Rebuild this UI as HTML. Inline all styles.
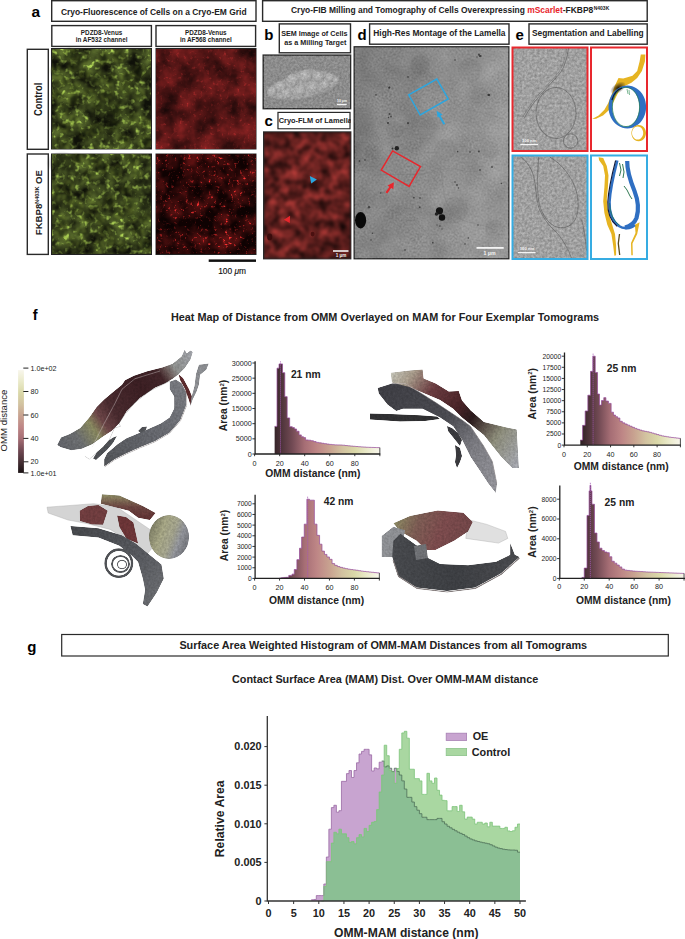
<!DOCTYPE html>
<html><head><meta charset="utf-8">
<style>
html,body{margin:0;padding:0;background:#fff;}
body{width:685px;height:939px;overflow:hidden;position:relative;font-family:"Liberation Sans",sans-serif;}
svg{position:absolute;left:0;top:0;}
text{font-family:"Liberation Sans",sans-serif;}
.b{font-weight:bold;}
</style></head><body>
<svg width="685" height="939" viewBox="0 0 685 939">
<defs>
  <filter id="fgreen" x="0" y="0" width="100%" height="100%" color-interpolation-filters="sRGB">
    <feTurbulence type="fractalNoise" baseFrequency="0.07" numOctaves="3" seed="4" result="n1"/>
    <feTurbulence type="fractalNoise" baseFrequency="0.2" numOctaves="2" seed="8" result="n2"/>
    <feColorMatrix in="n1" type="matrix" values="1.1 0 0 0 -0.2  1.1 0 0 0 -0.2  1.1 0 0 0 -0.2  0 0 0 0 1" result="a"/>
    <feColorMatrix in="n2" type="matrix" values="2.6 0 0 0 -1.4  2.6 0 0 0 -1.4  2.6 0 0 0 -1.4  0 0 0 0 1" result="bb"/>
    <feComposite in="a" in2="bb" operator="arithmetic" k1="1.3" k2="0.8" k3="0.25" k4="-0.04" result="i"/>
    <feColorMatrix in="i" type="matrix" values="0.62 0 0 0 0.06  0.76 0 0 0 0.065  0.3 0 0 0 0.035  0 0 0 0 1"/>
  </filter>
  <filter id="fred" x="0" y="0" width="100%" height="100%" color-interpolation-filters="sRGB">
    <feTurbulence type="fractalNoise" baseFrequency="0.05" numOctaves="4" seed="9" result="n1"/>
    <feTurbulence type="fractalNoise" baseFrequency="0.3" numOctaves="2" seed="3" result="n2"/>
    <feColorMatrix in="n1" type="matrix" values="0.8 0 0 0 0.02  0.8 0 0 0 0.02  0.8 0 0 0 0.02  0 0 0 0 1" result="a"/>
    <feColorMatrix in="n2" type="matrix" values="2.8 0 0 0 -1.7  2.8 0 0 0 -1.7  2.8 0 0 0 -1.7  0 0 0 0 1" result="bb"/>
    <feComposite in="a" in2="bb" operator="arithmetic" k1="0.5" k2="0.85" k3="0.08" k4="-0.06" result="i"/>
    <feColorMatrix in="i" type="matrix" values="0.9 0 0 0 0.075  0.21 0 0 0 0.025  0.21 0 0 0 0.025  0 0 0 0 1"/>
  </filter>
  <filter id="fred2" x="0" y="0" width="100%" height="100%" color-interpolation-filters="sRGB">
    <feTurbulence type="fractalNoise" baseFrequency="0.06" numOctaves="3" seed="12" result="n1"/>
    <feTurbulence type="fractalNoise" baseFrequency="0.35" numOctaves="2" seed="6" result="n2"/>
    <feColorMatrix in="n1" type="matrix" values="0.8 0 0 0 -0.24  0.8 0 0 0 -0.24  0.8 0 0 0 -0.24  0 0 0 0 1" result="a"/>
    <feColorMatrix in="n2" type="matrix" values="3.4 0 0 0 -2.08  3.4 0 0 0 -2.08  3.4 0 0 0 -2.08  0 0 0 0 1" result="bb"/>
    <feComposite in="a" in2="bb" operator="arithmetic" k1="2.0" k2="0.8" k3="0.45" k4="-0.02" result="i"/>
    <feColorMatrix in="i" type="matrix" values="1.0 0 0 0 0.06  0.2 0 0 0 0.008  0.2 0 0 0 0.008  0 0 0 0 1"/>
  </filter>
  <filter id="fc" x="0" y="0" width="100%" height="100%" color-interpolation-filters="sRGB">
    <feTurbulence type="fractalNoise" baseFrequency="0.1" numOctaves="2" seed="21" result="n"/>
    <feColorMatrix in="n" type="matrix" values="1 0 0 0 0  1 0 0 0 0  1 0 0 0 0  0 0 0 0 1" result="g"/>
    <feComposite in="SourceGraphic" in2="g" operator="arithmetic" k1="2.2" k2="-0.1" k3="0" k4="0" result="cc"/><feGaussianBlur in="cc" stdDeviation="0.8"/>
  </filter>
  <filter id="fem" x="0" y="0" width="100%" height="100%" color-interpolation-filters="sRGB">
    <feTurbulence type="fractalNoise" baseFrequency="0.4" numOctaves="2" seed="2" result="n"/>
    <feColorMatrix in="n" type="matrix" values="1 0 0 0 0  1 0 0 0 0  1 0 0 0 0  0 0 0 0 1" result="g"/>
    <feComposite in="SourceGraphic" in2="g" operator="arithmetic" k1="0" k2="1" k3="0.3" k4="-0.15"/>
  </filter>
  <filter id="fd" x="0" y="0" width="100%" height="100%" color-interpolation-filters="sRGB">
    <feTurbulence type="fractalNoise" baseFrequency="0.5" numOctaves="2" seed="7" result="n"/>
    <feTurbulence type="fractalNoise" baseFrequency="0.035" numOctaves="2" seed="17" result="n2"/>
    <feComposite in="n" in2="n2" operator="arithmetic" k1="0" k2="0.5" k3="0.5" k4="0" result="nn"/>
    <feColorMatrix in="nn" type="matrix" values="1 0 0 0 0  1 0 0 0 0  1 0 0 0 0  0 0 0 0 1" result="g"/>
    <feComposite in="SourceGraphic" in2="g" operator="arithmetic" k1="0" k2="1" k3="0.3" k4="-0.15"/>
  </filter>
  <filter id="fsem" x="0" y="0" width="100%" height="100%" color-interpolation-filters="sRGB">
    <feTurbulence type="fractalNoise" baseFrequency="0.45" numOctaves="2" seed="5" result="n"/>
    <feColorMatrix in="n" type="matrix" values="1 0 0 0 0  1 0 0 0 0  1 0 0 0 0  0 0 0 0 1" result="g"/>
    <feComposite in="SourceGraphic" in2="g" operator="arithmetic" k1="0" k2="1" k3="0.22" k4="-0.11"/>
  </filter>
  <filter id="blur1"><feGaussianBlur stdDeviation="1.2"/></filter>
  <filter id="blur2"><feGaussianBlur stdDeviation="2.5"/></filter>
  <linearGradient id="dgrad" x1="0" y1="0" x2="1" y2="0.3"><stop offset="0" stop-color="#7c7c7c"/><stop offset="0.3" stop-color="#848484"/><stop offset="0.6" stop-color="#8c8c8c"/><stop offset="1" stop-color="#959595"/></linearGradient>
  <radialGradient id="semblob" cx="0.5" cy="0.5" r="0.5"><stop offset="0" stop-color="#b4b4b4"/><stop offset="0.75" stop-color="#aaaaaa"/><stop offset="1" stop-color="#8e8e8e" stop-opacity="0"/></radialGradient>
<linearGradient id="cdark" x1="0" y1="0" x2="1" y2="1"><stop offset="0" stop-color="#000" stop-opacity="0.15"/><stop offset="0.45" stop-color="#000" stop-opacity="0"/><stop offset="0.75" stop-color="#000" stop-opacity="0.1"/><stop offset="1" stop-color="#000" stop-opacity="0.3"/></linearGradient>
<radialGradient id="darkspot" cx="0.5" cy="0.5" r="0.5"><stop offset="0" stop-color="#000" stop-opacity="0.45"/><stop offset="1" stop-color="#000" stop-opacity="0"/></radialGradient>
<radialGradient id="brightspot" cx="0.5" cy="0.5" r="0.5"><stop offset="0" stop-color="#fff" stop-opacity="0.12"/><stop offset="1" stop-color="#fff" stop-opacity="0"/></radialGradient>
<filter id="tex3d" x="0" y="0" width="100%" height="100%" color-interpolation-filters="sRGB">
<feTurbulence type="fractalNoise" baseFrequency="0.45" numOctaves="2" seed="3" result="n"/>
<feColorMatrix in="n" type="matrix" values="1 0 0 0 0  1 0 0 0 0  1 0 0 0 0  0 0 0 0 1" result="g"/>
<feComposite in="SourceGraphic" in2="g" operator="arithmetic" k1="0.3" k2="0.85" k3="0" k4="0" result="m"/>
<feComposite in="m" in2="SourceGraphic" operator="in"/>
</filter>
<filter id="blur05"><feGaussianBlur stdDeviation="0.9"/></filter>
</defs>

<!-- ===== Panel a ===== -->
<text x="31.6" y="16.9" class="b" font-size="15.5">a</text>
<rect x="51.7" y="0.7" width="204.3" height="20.6" fill="#fff" stroke="#2a2a2a" stroke-width="1.4"/>
<text x="60.9" y="15.2" class="b" font-size="8.45" fill="#222">Cryo-Fluorescence of Cells on a Cryo-EM Grid</text>
<rect x="51.8" y="25.6" width="99.6" height="20.8" fill="#fff" stroke="#2a2a2a" stroke-width="1.4"/>
<text x="101.6" y="34.8" class="b" font-size="6.33" fill="#222" text-anchor="middle">PDZD8-Venus</text>
<text x="101.6" y="42.1" class="b" font-size="6.33" fill="#222" text-anchor="middle">in AF532 channel</text>
<rect x="156" y="25.6" width="99.6" height="20.8" fill="#fff" stroke="#2a2a2a" stroke-width="1.4"/>
<text x="205.8" y="34.8" class="b" font-size="6.33" fill="#222" text-anchor="middle">PDZD8-Venus</text>
<text x="205.8" y="42.1" class="b" font-size="6.33" fill="#222" text-anchor="middle">in AF568 channel</text>

<rect x="27.3" y="49.3" width="21" height="100" fill="#fff" stroke="#2a2a2a" stroke-width="1.4"/>
<text transform="translate(41.9,99.4) rotate(-90) scale(0.885,1)" class="b" font-size="10.6" fill="#222" text-anchor="middle">Control</text>
<rect x="27.3" y="154" width="21" height="100.4" fill="#fff" stroke="#2a2a2a" stroke-width="1.4"/>
<text transform="translate(41.9,235.2) rotate(-90)" class="b" font-size="9.6" fill="#222">FKBP8<tspan font-size="5.5" dy="-2.6">N403K</tspan><tspan dy="2.6"> OE</tspan></text>

<!-- images -->
<rect x="51" y="48" width="101" height="101.5" fill="#222"/>
<rect x="52" y="49" width="99" height="99.5" filter="url(#fgreen)"/>
<g opacity="0.3" filter="url(#blur05)"><ellipse cx="97.2" cy="104.2" rx="4.0" ry="4.0" transform="rotate(80 97.2 104.2)" fill="#1e280c" stroke="#8aa436" stroke-width="1.3" stroke-dasharray="6.7,5.0"/><ellipse cx="140.1" cy="95.6" rx="4.4" ry="4.2" transform="rotate(103 140.1 95.6)" fill="#1e280c" stroke="#8aa436" stroke-width="1.3" stroke-dasharray="7.8,5.8"/><ellipse cx="72.8" cy="99.8" rx="4.9" ry="5.3" transform="rotate(176 72.8 99.8)" fill="#1e280c" stroke="#8aa436" stroke-width="1.9" stroke-dasharray="7.4,5.7"/><ellipse cx="113.3" cy="125.6" rx="5.7" ry="4.7" transform="rotate(25 113.3 125.6)" fill="#1e280c" stroke="#8aa436" stroke-width="1.2" stroke-dasharray="3.2,3.9"/><ellipse cx="64.6" cy="80.8" rx="4.0" ry="5.3" transform="rotate(126 64.6 80.8)" fill="#1e280c" stroke="#8aa436" stroke-width="2.2" stroke-dasharray="8.7,4.6"/><ellipse cx="64.3" cy="127.1" rx="4.1" ry="4.8" transform="rotate(87 64.3 127.1)" fill="#1e280c" stroke="#8aa436" stroke-width="1.9" stroke-dasharray="8.4,2.5"/><ellipse cx="119.1" cy="56.8" rx="4.8" ry="5.5" transform="rotate(14 119.1 56.8)" fill="#1e280c" stroke="#8aa436" stroke-width="1.7" stroke-dasharray="5.8,3.0"/><ellipse cx="145.4" cy="141.3" rx="5.8" ry="5.3" transform="rotate(133 145.4 141.3)" fill="#1e280c" stroke="#8aa436" stroke-width="1.9" stroke-dasharray="6.3,4.3"/><ellipse cx="115.5" cy="109.3" rx="6.0" ry="5.3" transform="rotate(63 115.5 109.3)" fill="#1e280c" stroke="#8aa436" stroke-width="1.9" stroke-dasharray="3.1,2.9"/><ellipse cx="70.3" cy="54.4" rx="6.3" ry="5.2" transform="rotate(75 70.3 54.4)" fill="#1e280c" stroke="#8aa436" stroke-width="2.0" stroke-dasharray="4.7,5.7"/><ellipse cx="104.1" cy="58.4" rx="6.2" ry="4.6" transform="rotate(112 104.1 58.4)" fill="#1e280c" stroke="#8aa436" stroke-width="1.6" stroke-dasharray="7.6,2.6"/><ellipse cx="58.7" cy="95.5" rx="5.5" ry="4.7" transform="rotate(14 58.7 95.5)" fill="#1e280c" stroke="#8aa436" stroke-width="1.8" stroke-dasharray="7.8,2.6"/><ellipse cx="96.1" cy="130.1" rx="6.5" ry="5.3" transform="rotate(131 96.1 130.1)" fill="#1e280c" stroke="#8aa436" stroke-width="1.6" stroke-dasharray="6.7,2.5"/><ellipse cx="97.6" cy="78.5" rx="5.8" ry="4.7" transform="rotate(79 97.6 78.5)" fill="#1e280c" stroke="#8aa436" stroke-width="2.0" stroke-dasharray="3.0,5.5"/><ellipse cx="132.5" cy="117.8" rx="4.2" ry="5.0" transform="rotate(5 132.5 117.8)" fill="#1e280c" stroke="#8aa436" stroke-width="1.8" stroke-dasharray="4.3,2.9"/><ellipse cx="84.7" cy="74.0" rx="5.2" ry="4.0" transform="rotate(126 84.7 74.0)" fill="#1e280c" stroke="#8aa436" stroke-width="1.7" stroke-dasharray="8.9,5.5"/><ellipse cx="82.3" cy="59.4" rx="5.5" ry="5.3" transform="rotate(46 82.3 59.4)" fill="#1e280c" stroke="#8aa436" stroke-width="1.2" stroke-dasharray="4.7,5.8"/><ellipse cx="125.7" cy="89.6" rx="4.8" ry="4.9" transform="rotate(36 125.7 89.6)" fill="#1e280c" stroke="#8aa436" stroke-width="1.4" stroke-dasharray="6.2,4.7"/><ellipse cx="56.0" cy="72.2" rx="6.3" ry="4.8" transform="rotate(80 56.0 72.2)" fill="#1e280c" stroke="#8aa436" stroke-width="2.1" stroke-dasharray="4.2,5.8"/><ellipse cx="62.6" cy="110.6" rx="4.8" ry="4.8" transform="rotate(36 62.6 110.6)" fill="#1e280c" stroke="#8aa436" stroke-width="1.6" stroke-dasharray="7.1,5.9"/><ellipse cx="126.8" cy="77.7" rx="6.0" ry="5.3" transform="rotate(158 126.8 77.7)" fill="#1e280c" stroke="#8aa436" stroke-width="1.6" stroke-dasharray="8.4,3.2"/><ellipse cx="143.7" cy="122.4" rx="5.5" ry="4.1" transform="rotate(25 143.7 122.4)" fill="#1e280c" stroke="#8aa436" stroke-width="1.7" stroke-dasharray="5.2,2.7"/><ellipse cx="106.9" cy="93.9" rx="6.1" ry="5.2" transform="rotate(128 106.9 93.9)" fill="#1e280c" stroke="#8aa436" stroke-width="2.2" stroke-dasharray="3.9,2.3"/><ellipse cx="73.4" cy="120.0" rx="4.7" ry="3.8" transform="rotate(81 73.4 120.0)" fill="#1e280c" stroke="#8aa436" stroke-width="1.5" stroke-dasharray="4.8,4.4"/><ellipse cx="83.7" cy="134.0" rx="4.5" ry="4.3" transform="rotate(113 83.7 134.0)" fill="#1e280c" stroke="#8aa436" stroke-width="1.7" stroke-dasharray="3.0,4.7"/><ellipse cx="75.2" cy="89.1" rx="4.8" ry="5.2" transform="rotate(177 75.2 89.1)" fill="#1e280c" stroke="#8aa436" stroke-width="1.7" stroke-dasharray="5.0,3.2"/><ellipse cx="65.1" cy="143.5" rx="4.2" ry="3.6" transform="rotate(157 65.1 143.5)" fill="#1e280c" stroke="#8aa436" stroke-width="1.2" stroke-dasharray="7.9,3.9"/><ellipse cx="89.8" cy="94.5" rx="5.8" ry="4.6" transform="rotate(56 89.8 94.5)" fill="#1e280c" stroke="#8aa436" stroke-width="2.0" stroke-dasharray="4.9,3.9"/><ellipse cx="72.6" cy="67.1" rx="4.0" ry="3.8" transform="rotate(82 72.6 67.1)" fill="#1e280c" stroke="#8aa436" stroke-width="1.2" stroke-dasharray="7.2,2.2"/><ellipse cx="123.3" cy="139.0" rx="6.1" ry="4.0" transform="rotate(25 123.3 139.0)" fill="#1e280c" stroke="#8aa436" stroke-width="1.2" stroke-dasharray="8.9,2.1"/><ellipse cx="110.3" cy="79.8" rx="5.6" ry="4.4" transform="rotate(113 110.3 79.8)" fill="#1e280c" stroke="#8aa436" stroke-width="1.9" stroke-dasharray="7.5,5.4"/><ellipse cx="139.5" cy="71.7" rx="6.0" ry="5.4" transform="rotate(123 139.5 71.7)" fill="#1e280c" stroke="#8aa436" stroke-width="1.4" stroke-dasharray="3.1,5.2"/></g>
<ellipse cx="110" cy="112" rx="28" ry="24" fill="url(#darkspot)"/>
<rect x="155.5" y="48" width="101" height="101.5" fill="#222"/>
<rect x="156.5" y="49" width="99" height="99.5" filter="url(#fred)"/>
<ellipse cx="205" cy="112" rx="25" ry="22" fill="url(#darkspot)" opacity="0.7"/><ellipse cx="168" cy="100" rx="12" ry="40" fill="url(#darkspot)" opacity="0.5"/>
<rect x="51" y="153.5" width="101" height="101.5" fill="#222"/>
<rect x="52" y="154.5" width="99" height="99.5" filter="url(#fgreen)"/>
<g opacity="0.3" filter="url(#blur05)"><ellipse cx="99.2" cy="218.7" rx="4.9" ry="3.7" transform="rotate(64 99.2 218.7)" fill="#1c260a" stroke="#94ae3a" stroke-width="1.5" stroke-dasharray="5.2,4.3"/><ellipse cx="116.6" cy="171.5" rx="6.3" ry="4.9" transform="rotate(97 116.6 171.5)" fill="#1c260a" stroke="#94ae3a" stroke-width="1.8" stroke-dasharray="3.1,2.2"/><ellipse cx="57.0" cy="192.8" rx="4.3" ry="4.6" transform="rotate(126 57.0 192.8)" fill="#1c260a" stroke="#94ae3a" stroke-width="1.6" stroke-dasharray="4.1,5.8"/><ellipse cx="80.9" cy="232.6" rx="4.6" ry="4.3" transform="rotate(58 80.9 232.6)" fill="#1c260a" stroke="#94ae3a" stroke-width="1.9" stroke-dasharray="4.2,5.0"/><ellipse cx="118.8" cy="213.5" rx="4.4" ry="3.7" transform="rotate(56 118.8 213.5)" fill="#1c260a" stroke="#94ae3a" stroke-width="1.9" stroke-dasharray="8.6,5.8"/><ellipse cx="69.2" cy="198.8" rx="5.9" ry="4.8" transform="rotate(168 69.2 198.8)" fill="#1c260a" stroke="#94ae3a" stroke-width="1.6" stroke-dasharray="5.1,3.4"/><ellipse cx="70.8" cy="241.4" rx="4.1" ry="4.5" transform="rotate(80 70.8 241.4)" fill="#1c260a" stroke="#94ae3a" stroke-width="1.4" stroke-dasharray="6.1,5.1"/><ellipse cx="61.4" cy="233.4" rx="5.7" ry="4.2" transform="rotate(43 61.4 233.4)" fill="#1c260a" stroke="#94ae3a" stroke-width="1.5" stroke-dasharray="3.6,5.0"/><ellipse cx="62.8" cy="221.4" rx="6.4" ry="3.5" transform="rotate(65 62.8 221.4)" fill="#1c260a" stroke="#94ae3a" stroke-width="1.5" stroke-dasharray="7.8,5.4"/><ellipse cx="86.7" cy="195.5" rx="4.5" ry="4.4" transform="rotate(40 86.7 195.5)" fill="#1c260a" stroke="#94ae3a" stroke-width="2.1" stroke-dasharray="3.2,5.8"/><ellipse cx="132.7" cy="160.2" rx="5.3" ry="4.9" transform="rotate(29 132.7 160.2)" fill="#1c260a" stroke="#94ae3a" stroke-width="1.7" stroke-dasharray="3.5,3.4"/><ellipse cx="102.3" cy="166.8" rx="5.5" ry="5.2" transform="rotate(45 102.3 166.8)" fill="#1c260a" stroke="#94ae3a" stroke-width="1.7" stroke-dasharray="6.7,5.7"/><ellipse cx="145.8" cy="245.1" rx="6.1" ry="5.2" transform="rotate(41 145.8 245.1)" fill="#1c260a" stroke="#94ae3a" stroke-width="1.7" stroke-dasharray="5.0,5.7"/><ellipse cx="68.3" cy="187.1" rx="5.9" ry="4.3" transform="rotate(121 68.3 187.1)" fill="#1c260a" stroke="#94ae3a" stroke-width="1.9" stroke-dasharray="6.3,3.2"/><ellipse cx="110.2" cy="202.1" rx="6.4" ry="4.6" transform="rotate(123 110.2 202.1)" fill="#1c260a" stroke="#94ae3a" stroke-width="1.6" stroke-dasharray="4.9,2.7"/><ellipse cx="91.0" cy="161.3" rx="5.8" ry="4.1" transform="rotate(90 91.0 161.3)" fill="#1c260a" stroke="#94ae3a" stroke-width="1.6" stroke-dasharray="3.5,2.6"/><ellipse cx="122.1" cy="247.0" rx="4.8" ry="3.8" transform="rotate(41 122.1 247.0)" fill="#1c260a" stroke="#94ae3a" stroke-width="1.7" stroke-dasharray="7.1,6.0"/><ellipse cx="144.8" cy="219.2" rx="4.6" ry="3.6" transform="rotate(145 144.8 219.2)" fill="#1c260a" stroke="#94ae3a" stroke-width="1.5" stroke-dasharray="4.0,2.2"/><ellipse cx="129.7" cy="204.3" rx="6.3" ry="4.7" transform="rotate(70 129.7 204.3)" fill="#1c260a" stroke="#94ae3a" stroke-width="2.1" stroke-dasharray="8.9,4.1"/><ellipse cx="95.1" cy="206.0" rx="6.2" ry="4.1" transform="rotate(23 95.1 206.0)" fill="#1c260a" stroke="#94ae3a" stroke-width="1.8" stroke-dasharray="5.4,2.9"/><ellipse cx="87.3" cy="216.8" rx="6.1" ry="4.7" transform="rotate(141 87.3 216.8)" fill="#1c260a" stroke="#94ae3a" stroke-width="1.6" stroke-dasharray="6.6,5.3"/><ellipse cx="99.3" cy="246.2" rx="5.5" ry="4.0" transform="rotate(73 99.3 246.2)" fill="#1c260a" stroke="#94ae3a" stroke-width="1.6" stroke-dasharray="5.7,3.7"/><ellipse cx="89.1" cy="175.8" rx="5.0" ry="4.3" transform="rotate(145 89.1 175.8)" fill="#1c260a" stroke="#94ae3a" stroke-width="1.4" stroke-dasharray="3.3,5.7"/><ellipse cx="126.1" cy="189.8" rx="4.5" ry="4.0" transform="rotate(175 126.1 189.8)" fill="#1c260a" stroke="#94ae3a" stroke-width="1.7" stroke-dasharray="3.2,4.0"/><ellipse cx="78.0" cy="159.3" rx="4.1" ry="5.2" transform="rotate(157 78.0 159.3)" fill="#1c260a" stroke="#94ae3a" stroke-width="2.0" stroke-dasharray="8.0,2.5"/><ellipse cx="131.7" cy="217.0" rx="4.9" ry="5.0" transform="rotate(55 131.7 217.0)" fill="#1c260a" stroke="#94ae3a" stroke-width="1.3" stroke-dasharray="7.4,5.8"/><ellipse cx="76.9" cy="206.7" rx="6.2" ry="5.2" transform="rotate(38 76.9 206.7)" fill="#1c260a" stroke="#94ae3a" stroke-width="2.1" stroke-dasharray="6.8,5.2"/><ellipse cx="137.4" cy="173.3" rx="4.1" ry="4.1" transform="rotate(2 137.4 173.3)" fill="#1c260a" stroke="#94ae3a" stroke-width="1.4" stroke-dasharray="3.6,3.7"/><ellipse cx="81.3" cy="244.9" rx="4.4" ry="4.9" transform="rotate(53 81.3 244.9)" fill="#1c260a" stroke="#94ae3a" stroke-width="1.4" stroke-dasharray="3.9,5.4"/><ellipse cx="109.5" cy="240.9" rx="4.5" ry="4.1" transform="rotate(155 109.5 240.9)" fill="#1c260a" stroke="#94ae3a" stroke-width="1.8" stroke-dasharray="4.8,3.8"/><ellipse cx="138.2" cy="231.5" rx="4.3" ry="4.9" transform="rotate(97 138.2 231.5)" fill="#1c260a" stroke="#94ae3a" stroke-width="1.6" stroke-dasharray="9.0,5.4"/><ellipse cx="104.7" cy="230.7" rx="5.3" ry="4.8" transform="rotate(144 104.7 230.7)" fill="#1c260a" stroke="#94ae3a" stroke-width="1.7" stroke-dasharray="8.9,3.8"/></g>
<ellipse cx="62" cy="163" rx="16" ry="12" fill="url(#darkspot)"/><ellipse cx="140" cy="205" rx="12" ry="30" fill="url(#darkspot)" opacity="0.6"/>
<rect x="155.5" y="153.5" width="101" height="101.5" fill="#222"/>
<rect x="156.5" y="154.5" width="99" height="99.5" filter="url(#fred2)"/>
<ellipse cx="168" cy="215" rx="14" ry="45" fill="url(#darkspot)" opacity="0.7"/><ellipse cx="245" cy="215" rx="12" ry="40" fill="url(#darkspot)" opacity="0.5"/>

<rect x="208.7" y="259.4" width="47.3" height="2.5" fill="#111"/>
<text x="218.2" y="274.3" font-size="8.4" fill="#111" stroke="#111" stroke-width="0.15">100 <tspan font-style="italic">μ</tspan>m</text>

<!-- ===== Panel b-e ===== -->
<rect x="262.6" y="0.7" width="384.6" height="20.6" fill="#fff" stroke="#2a2a2a" stroke-width="1.4"/>
<text x="291" y="13.3" class="b" font-size="8.45" fill="#222">Cryo-FIB Milling and Tomography of Cells Overexpressing <tspan fill="#e8232a">mScarlet</tspan>-FKBP8<tspan font-size="5" dx="0.4" dy="-3.1">N403K</tspan></text>

<text x="264.2" y="39.8" class="b" font-size="15">b</text>
<rect x="279.3" y="23.9" width="71.2" height="28.9" fill="#fff" stroke="#2a2a2a" stroke-width="1.4"/>
<text x="314.3" y="36.1" class="b" font-size="7.2" fill="#222" text-anchor="middle">SEM Image of Cells</text>
<text x="315.3" y="44.6" class="b" font-size="7.2" fill="#222" text-anchor="middle">as a Milling Target</text>
<rect x="262.5" y="54.4" width="88.8" height="55" fill="#2a2a2a"/>
<defs><radialGradient id="bump" cx="0.4" cy="0.38" r="0.62"><stop offset="0" stop-color="#bababa"/><stop offset="0.6" stop-color="#a8a8a8"/><stop offset="0.9" stop-color="#989898"/><stop offset="1" stop-color="#929292"/></radialGradient></defs>
<g filter="url(#fsem)"><rect x="263.8" y="55.7" width="86.2" height="52.4" fill="#8c8c8c"/>
<path d="M266,94 C268,86 276,81 285,78 C292,72 302,68 312,69 C322,70 330,72 337,75 C341,78 340,84 335,87 C326,92 316,96 304,99 C292,101 278,100 270,98 Z" fill="#a4a4a4" stroke="#7a7a7a" stroke-width="1.2" filter="url(#blur1)"/>
<g fill="url(#bump)"><circle cx="272" cy="92" r="5"/><circle cx="281" cy="87" r="6"/><circle cx="293" cy="80" r="6.5"/><circle cx="306" cy="76" r="6.5"/><circle cx="319" cy="77" r="5.5"/><circle cx="330" cy="78" r="4.5"/><circle cx="287" cy="94" r="5.5"/><circle cx="300" cy="91" r="6"/><circle cx="313" cy="88" r="5.5"/><circle cx="325" cy="85" r="4.5"/><circle cx="336" cy="80" r="3"/></g>
</g>
<rect x="337" y="103.8" width="9.7" height="1.4" fill="#f4f4f4"/><text x="342" y="101.8" font-size="3.4" class="b" fill="#f4f4f4" text-anchor="middle">10 μm</text>

<text x="264.6" y="125.9" class="b" font-size="15">c</text>
<svg x="277.2" y="111.6" width="73.6" height="18" overflow="hidden">
<rect x="0.7" y="0.7" width="72.2" height="16.6" fill="#fff" stroke="#2a2a2a" stroke-width="1.4"/>
<text x="1.5" y="11.9" class="b" font-size="7.4" fill="#222">Cryo-FLM of Lamella</text>
</svg>
<rect x="263" y="131.3" width="88.4" height="128.1" fill="#2a2a2a"/>
<rect x="264.2" y="132.5" width="86" height="125.7" fill="#682220" filter="url(#fc)"/>
<rect x="264.2" y="132.5" width="86" height="125.7" fill="url(#cdark)"/>
<ellipse cx="269.7" cy="236.9" rx="2.6" ry="3.4" fill="#3a0c0c"/><ellipse cx="312.6" cy="234.1" rx="2" ry="2.4" fill="#4a1010"/>
<path d="M309.8,176.1 L316.9,179.5 L311.2,183.4 Z" fill="#29a6e0"/>
<path d="M290.1,215.8 L283.8,219.7 L289.8,223.1 Z" fill="#e8262c"/>
<rect x="333" y="250.2" width="15.5" height="1.6" fill="#f0f0f0"/><text x="341" y="256.6" font-size="4.6" class="b" fill="#f0f0f0" text-anchor="middle">1 μm</text>

<text x="357.4" y="39.5" class="b" font-size="15">d</text>
<rect x="369.6" y="23.9" width="139.4" height="20.3" fill="#fff" stroke="#2a2a2a" stroke-width="1.4"/>
<text x="373.3" y="36" class="b" font-size="8.4" fill="#222">High-Res Montage of the Lamella</text>
<rect x="353.5" y="46.1" width="156" height="213.3" fill="#2a2a2a"/>
<g filter="url(#fd)"><rect x="354.7" y="47.3" width="153.6" height="210.9" fill="url(#dgrad)"/>
<g fill="#000" opacity="0.035"><circle cx="420" cy="65" r="10"/><circle cx="470" cy="70" r="12"/><circle cx="395" cy="130" r="9"/><circle cx="372" cy="152" r="8"/><circle cx="445" cy="150" r="11"/><circle cx="490" cy="150" r="9"/><circle cx="455" cy="210" r="13"/><circle cx="495" cy="230" r="10"/><circle cx="410" cy="230" r="14"/><circle cx="380" cy="200" r="9"/></g>
</g>
<ellipse cx="360.6" cy="220.2" rx="5.6" ry="8.2" fill="#080808"/>
<circle cx="439.5" cy="210.8" r="3.6" fill="#141414"/><circle cx="442" cy="217.5" r="3.2" fill="#101010"/><circle cx="436.5" cy="214" r="1.8" fill="#222"/>
<circle cx="396.8" cy="148.2" r="2.2" fill="#222"/><circle cx="392.5" cy="148.5" r="1" fill="#333"/>
<g fill="#3a3a3a" opacity="0.85"><circle cx="478.9" cy="54.6" r="1.1"/><circle cx="481" cy="56" r="0.8"/><circle cx="477" cy="57" r="0.7"/><circle cx="389" cy="87.8" r="0.9"/><circle cx="376" cy="94.9" r="0.8"/><circle cx="389.5" cy="114" r="1"/><circle cx="391" cy="116.5" r="0.9"/><circle cx="388.5" cy="117.5" r="0.7"/><circle cx="408" cy="123.2" r="1.1"/><circle cx="488.4" cy="94.9" r="1.1"/><circle cx="359.5" cy="161" r="0.9"/><circle cx="457.6" cy="151.6" r="0.8"/><circle cx="478.9" cy="151.6" r="1"/><circle cx="492" cy="167" r="0.9"/><circle cx="413.9" cy="197.7" r="0.9"/><circle cx="455" cy="182" r="0.8"/><circle cx="457" cy="185" r="0.9"/><circle cx="458.5" cy="188" r="0.7"/><circle cx="419.8" cy="207.2" r="0.9"/><circle cx="439.9" cy="226.1" r="0.8"/><circle cx="380.7" cy="193" r="0.8"/><circle cx="369" cy="207.2" r="1.2"/><circle cx="372.5" cy="233.2" r="0.8"/><circle cx="432.8" cy="242.7" r="0.9"/><circle cx="468.3" cy="238" r="0.8"/><circle cx="501.4" cy="183.5" r="0.8"/><circle cx="437" cy="225" r="0.7"/><circle cx="442" cy="229" r="0.7"/></g>
<g fill="none" stroke="#6e6e6e" stroke-width="0.5" opacity="0.45"><path d="M372,176 C390,172 420,178 440,170 C455,165 470,176 480,170"/><path d="M440,170 C445,185 440,200 455,215 C465,225 480,222 495,230"/><path d="M395,205 C405,215 420,222 432,240 C436,248 446,252 460,256"/><path d="M410,60 C430,70 440,90 450,100 C460,112 480,110 500,118"/><path d="M358,120 C370,125 380,135 383,150"/></g>
<g fill="#333"><circle cx="389.5" cy="87.5" r="0.9"/><circle cx="408" cy="77" r="0.8"/><circle cx="388" cy="123" r="0.9"/><circle cx="489" cy="95" r="1.1"/><circle cx="470" cy="152" r="0.8"/><circle cx="480" cy="170" r="0.8"/><circle cx="365" cy="160" r="0.8"/><circle cx="420" cy="198" r="0.8"/><circle cx="371" cy="240" r="0.7"/><circle cx="478" cy="225" r="0.7"/><circle cx="405" cy="250" r="0.8"/><circle cx="465" cy="244" r="0.7"/><circle cx="480" cy="56" r="1"/><circle cx="455" cy="60" r="0.7"/></g>
<path d="M408.7,94.9 L436.8,79 L448.2,98.9 L420.2,115 Z" fill="none" stroke="#2ba6e0" stroke-width="1.5"/>
<path d="M444.3,124.3 L439.2,115.4" stroke="#2ba6e0" stroke-width="2"/><path d="M436.6,110.8 L442.5,114.6 L437.6,117.5 Z" fill="#2ba6e0"/>
<path d="M381.2,170.1 L392.6,150.9 L420.5,166.5 L409.1,186.4 Z" fill="none" stroke="#e8262c" stroke-width="1.5"/>
<path d="M386.4,192.8 L390.8,186.6" stroke="#e8262c" stroke-width="2.2"/><path d="M393.9,182.2 L393.3,189.3 L387.5,185.4 Z" fill="#e8262c"/>
<rect x="476.5" y="247" width="27.2" height="1.8" fill="#f4f4f4"/><text x="489.6" y="255.3" font-size="5.2" class="b" fill="#f4f4f4" text-anchor="middle">1 μm</text>

<text x="515.4" y="39.6" class="b" font-size="15">e</text>
<rect x="529" y="23.9" width="118.2" height="20.3" fill="#fff" stroke="#2a2a2a" stroke-width="1.4"/>
<text x="532" y="36" class="b" font-size="8.4" fill="#222">Segmentation and Labelling</text>

<rect x="512.5" y="47.5" width="75" height="103.5" fill="#a0a0a0" filter="url(#fem)"/>
<g fill="none" stroke="#555" stroke-width="0.7" opacity="0.8">
<path d="M524,118.8 C528,111 533,103 539.9,95.5 C546,88.5 556,78 560.8,72.2 C565,66 567,57 568.7,47.7"/>
<path d="M522.5,117.5 C527,110 532,102 538.5,94.5 C545,87.5 555,77 559.5,71.2 C563.5,65 565.5,56 567.2,47.7" opacity="0.6"/>
<ellipse cx="556" cy="113" rx="20" ry="25.5"/>
<circle cx="570.6" cy="141" r="7.2"/>
</g>
<rect x="520.3" y="144" width="17.7" height="1.2" fill="#f4f4f4"/><text x="529.2" y="141.6" font-size="4.2" class="b" fill="#f4f4f4" text-anchor="middle">100 nm</text>
<rect x="512.5" y="47.5" width="75" height="103.5" fill="none" stroke="#e8282e" stroke-width="2"/>
<rect x="591" y="47.5" width="56" height="103.5" fill="#fff" stroke="#e8282e" stroke-width="2"/>
<defs><linearGradient id="ygr" x1="0" y1="0" x2="1" y2="0"><stop offset="0" stop-color="#e9b824"/><stop offset="0.6" stop-color="#d9a41c"/><stop offset="1" stop-color="#f0c030"/></linearGradient>
<radialGradient id="shad1" cx="0.5" cy="0.5" r="0.5"><stop offset="0" stop-color="#1a1208" stop-opacity="0.95"/><stop offset="1" stop-color="#1a1208" stop-opacity="0"/></radialGradient></defs>
<path d="M592.1,119 L598.6,115.5 L604.4,109.7 L608,103.5 L611.5,95 L614.5,86.5 L618.5,78 L623.2,78.6 L626.7,77.4 L632.5,75.7 L637.2,71 L639.6,61.6 L640.8,54.6 L645.4,54.6 L644.9,61.6 L641.9,71 L637.2,78 L631.4,82.7 L624.3,86.2 L619,91 L616,97 L612.5,104 L608.5,110.5 L603,115.5 L596,118.8 Z" fill="#e6b422"/>
<ellipse cx="618" cy="88" rx="9" ry="5" fill="url(#shad1)" transform="rotate(-35 618 88)"/>
<path fill-rule="evenodd" d="M627.3,85.6 A18.8,21.4 0 1 1 627.29,85.6 Z M625.8,87.4 A13.6,19.6 0 1 0 625.81,87.4 Z" fill="#2f6fc2"/>
<ellipse cx="626" cy="107" rx="13.6" ry="19.6" fill="none" stroke="#1e7a4a" stroke-width="0.7"/>
<path d="M612,100 A13.6,19.6 0 0 1 622,88" fill="none" stroke="#101828" stroke-width="1.2"/>
<path d="M627,89 L628,94 M629,90 L629.5,95" stroke="#2a8a50" stroke-width="0.6"/>
<path fill-rule="evenodd" d="M638.7,124.9 A7.3,8.2 0 1 1 638.69,124.9 Z M637.6,126.4 A5.6,6.6 0 1 0 637.61,126.4 Z" fill="#e6b422"/>
<rect x="512.5" y="155.5" width="75" height="103.5" fill="#a0a0a0" filter="url(#fem)"/>
<g fill="none" stroke="#555" stroke-width="0.7" opacity="0.8">
<path d="M520.3,156.9 C525,159 531,167 533.8,176.5 C536,186 536,198 538.7,207.2 C541,214 547,224 554.6,230.5 C559,235 564,241 569.3,252.6 L571.8,259"/>
<path d="M538.7,156.9 C537.5,170 537,190 538.7,201.1 C540,210 546,222 555,226.5 C562,229.5 571,227 575,220 C579,212 579,200 576,190 C572,178 565,169 557,162 L549.7,156.9"/>
<path d="M581.6,219.5 C584,228 585.3,237.9 586.5,250.2"/>
</g>
<rect x="517.8" y="252" width="17.8" height="1.2" fill="#f4f4f4"/><text x="527" y="249.6" font-size="4.2" class="b" fill="#f4f4f4" text-anchor="middle">100 nm</text>
<rect x="512.5" y="155.5" width="75" height="103.5" fill="none" stroke="#36ace2" stroke-width="2"/>
<rect x="591" y="155.5" width="56" height="103.5" fill="#fff" stroke="#36ace2" stroke-width="2"/>
<path d="M598.6,157.3 L603.2,157.9 L606.8,166.1 L608.5,175.4 L607.9,187.2 L606.8,198.9 L607.9,210.6 L611.4,222.3 L615,234.1 L616.1,245.8 L616.1,255.2 L614.4,255.8 L613.2,245.8 L611.4,234.1 L607.3,224.7 L604.4,213 L603.2,201.2 L604.4,187.2 L605,175.4 L603.2,166.1 L599.1,160.2 Z" fill="#e6b422"/>
<path d="M619.5,234 L618.3,243.4 L619.7,255" fill="none" stroke="#5a4a1a" stroke-width="1.3"/>
<path d="M634.9,224.7 L639.6,222.3 L637.2,234.1 L632.5,243.4 L632.8,255.2 L631.3,255.2 L631,243 L635.5,233 Z" fill="#e6b422"/>
<path d="M617.3,160.5 C614.3,172 610.3,188 609.5,202 C609.1,212 612.3,221 618.8,226 C623.3,229 630.3,229 634.8,225" fill="none" stroke="#2f6fc2" stroke-width="2.6"/>
<path d="M615.6,160.5 C612.6,172 608.6,188 607.8,202 C607.4,212 610.6,221 617.1,226.2" fill="none" stroke="#101a3a" stroke-width="1.1"/>
<path d="M627.2,161 C627,170 630,180 634.5,191 C638,200 639,210 636.5,218 C634.5,223 631,226 625,227.5" fill="none" stroke="#2f6fc2" stroke-width="4.2"/>
<path d="M609.5,203 C610,214 614,222 620,225.5" fill="none" stroke="#1e7a4a" stroke-width="0.7"/>
<path d="M619.5,163 L621,170 L619.5,176 M622.5,164 L624,172 L623,178 M624,186 L627,190 L630,196 L632,199" fill="none" stroke="#1a6a40" stroke-width="0.9"/>

<!-- ===== Panel f ===== -->
<text x="32.8" y="320.1" class="b" font-size="14.5">f</text>
<text x="170.9" y="320.7" class="b" font-size="10.87" fill="#222">Heat Map of Distance from OMM Overlayed on MAM for Four Exemplar Tomograms</text>

<!-- ===== Panel g ===== -->
<text x="27.3" y="652" class="b" font-size="15">g</text>
<rect x="61.7" y="634.5" width="606.6" height="21.5" fill="#fff" stroke="#2a2a2a" stroke-width="1.2"/>
<text x="179.4" y="648.8" class="b" font-size="10.85" fill="#222">Surface Area Weighted Histogram of OMM-MAM Distances from all Tomograms</text>
<text x="232" y="682.8" class="b" font-size="10.85" fill="#222">Contact Surface Area (MAM) Dist. Over OMM-MAM distance</text>

<defs><linearGradient id="cbar" x1="0" y1="1" x2="0" y2="0"><stop offset="0.000" stop-color="#1a1214"/><stop offset="0.111" stop-color="#483036"/><stop offset="0.222" stop-color="#724a54"/><stop offset="0.333" stop-color="#a66e75"/><stop offset="0.444" stop-color="#be8686"/><stop offset="0.556" stop-color="#c8a290"/><stop offset="0.667" stop-color="#d2c2a0"/><stop offset="0.778" stop-color="#dad8a8"/><stop offset="0.889" stop-color="#eaeaca"/><stop offset="1.000" stop-color="#f8f6ec"/></linearGradient><linearGradient id="r1a" gradientUnits="userSpaceOnUse" x1="57" y1="445" x2="192" y2="352"><stop offset="0" stop-color="#5e6066"/><stop offset="0.13" stop-color="#6a6c6e"/><stop offset="0.24" stop-color="#86865e"/><stop offset="0.31" stop-color="#6a4446"/><stop offset="0.4" stop-color="#482a2e"/><stop offset="0.62" stop-color="#3a1e22"/><stop offset="0.76" stop-color="#402428"/><stop offset="0.81" stop-color="#6a5a58"/><stop offset="0.86" stop-color="#8c8e8c"/><stop offset="1" stop-color="#9c9ea4"/></linearGradient><linearGradient id="r1b" gradientUnits="userSpaceOnUse" x1="104" y1="466" x2="186" y2="385"><stop offset="0" stop-color="#505256"/><stop offset="0.5" stop-color="#64666c"/><stop offset="1" stop-color="#76787e"/></linearGradient><linearGradient id="r2a" gradientUnits="userSpaceOnUse" x1="391" y1="372" x2="518" y2="460"><stop offset="0" stop-color="#c0c0b4"/><stop offset="0.12" stop-color="#a49888"/><stop offset="0.28" stop-color="#6a3c40"/><stop offset="0.48" stop-color="#4a2428"/><stop offset="0.6" stop-color="#2a1a1c"/><stop offset="0.7" stop-color="#5a5048"/><stop offset="0.8" stop-color="#8a8a78"/><stop offset="1" stop-color="#a0a2a8"/></linearGradient><linearGradient id="r2b" gradientUnits="userSpaceOnUse" x1="380" y1="395" x2="495" y2="490"><stop offset="0" stop-color="#3e3e44"/><stop offset="0.45" stop-color="#4a4a50"/><stop offset="0.7" stop-color="#7a7a80"/><stop offset="1" stop-color="#929298"/></linearGradient><linearGradient id="r3c" gradientUnits="userSpaceOnUse" x1="110" y1="494" x2="110" y2="520"><stop offset="0" stop-color="#8c8c64"/><stop offset="0.5" stop-color="#6a4440"/><stop offset="1" stop-color="#5e2e30"/></linearGradient><linearGradient id="r3e" gradientUnits="userSpaceOnUse" x1="149" y1="530" x2="189" y2="545"><stop offset="0" stop-color="#7a7a62"/><stop offset="0.3" stop-color="#a2a282"/><stop offset="0.55" stop-color="#a0a08a"/><stop offset="0.75" stop-color="#8e9096"/><stop offset="1" stop-color="#6e7076"/></linearGradient><linearGradient id="r3f" gradientUnits="userSpaceOnUse" x1="70" y1="530" x2="160" y2="600"><stop offset="0" stop-color="#44464a"/><stop offset="0.6" stop-color="#55575c"/><stop offset="1" stop-color="#6a6c70"/></linearGradient><linearGradient id="r4a" gradientUnits="userSpaceOnUse" x1="395" y1="515" x2="470" y2="545"><stop offset="0" stop-color="#8a8a62"/><stop offset="0.3" stop-color="#7a5a52"/><stop offset="0.6" stop-color="#7a4a4c"/><stop offset="1" stop-color="#6e4446"/></linearGradient><linearGradient id="r4d" gradientUnits="userSpaceOnUse" x1="395" y1="560" x2="515" y2="560"><stop offset="0" stop-color="#46484c"/><stop offset="0.5" stop-color="#3c3e42"/><stop offset="1" stop-color="#48494d"/></linearGradient><linearGradient id="hg1" gradientUnits="userSpaceOnUse" x1="267.12" y1="0" x2="379.85" y2="0"><stop offset="0.000" stop-color="#1a1214"/><stop offset="0.111" stop-color="#483036"/><stop offset="0.222" stop-color="#724a54"/><stop offset="0.333" stop-color="#a66e75"/><stop offset="0.444" stop-color="#be8686"/><stop offset="0.556" stop-color="#c8a290"/><stop offset="0.667" stop-color="#d2c2a0"/><stop offset="0.778" stop-color="#dad8a8"/><stop offset="0.889" stop-color="#eaeaca"/><stop offset="1.000" stop-color="#f8f6ec"/></linearGradient><linearGradient id="hg2" gradientUnits="userSpaceOnUse" x1="575.64" y1="0" x2="680.4" y2="0"><stop offset="0.000" stop-color="#1a1214"/><stop offset="0.111" stop-color="#483036"/><stop offset="0.222" stop-color="#724a54"/><stop offset="0.333" stop-color="#a66e75"/><stop offset="0.444" stop-color="#be8686"/><stop offset="0.556" stop-color="#c8a290"/><stop offset="0.667" stop-color="#d2c2a0"/><stop offset="0.778" stop-color="#dad8a8"/><stop offset="0.889" stop-color="#eaeaca"/><stop offset="1.000" stop-color="#f8f6ec"/></linearGradient><linearGradient id="hg3" gradientUnits="userSpaceOnUse" x1="267.07" y1="0" x2="379.35" y2="0"><stop offset="0.000" stop-color="#1a1214"/><stop offset="0.111" stop-color="#483036"/><stop offset="0.222" stop-color="#724a54"/><stop offset="0.333" stop-color="#a66e75"/><stop offset="0.444" stop-color="#be8686"/><stop offset="0.556" stop-color="#c8a290"/><stop offset="0.667" stop-color="#d2c2a0"/><stop offset="0.778" stop-color="#dad8a8"/><stop offset="0.889" stop-color="#eaeaca"/><stop offset="1.000" stop-color="#f8f6ec"/></linearGradient><linearGradient id="hg4" gradientUnits="userSpaceOnUse" x1="571.77" y1="0" x2="684.05" y2="0"><stop offset="0.000" stop-color="#1a1214"/><stop offset="0.111" stop-color="#483036"/><stop offset="0.222" stop-color="#724a54"/><stop offset="0.333" stop-color="#a66e75"/><stop offset="0.444" stop-color="#be8686"/><stop offset="0.556" stop-color="#c8a290"/><stop offset="0.667" stop-color="#d2c2a0"/><stop offset="0.778" stop-color="#dad8a8"/><stop offset="0.889" stop-color="#eaeaca"/><stop offset="1.000" stop-color="#f8f6ec"/></linearGradient></defs>
<rect x="18.1" y="370.1" width="5.8" height="102.8" fill="url(#cbar)"/>
<path d="M23.3,368.1 H28.4" stroke="#222" stroke-width="1"/>
<text x="30.4" y="370.7" font-size="7.2" fill="#222">1.0e+02</text>
<path d="M23.3,391.5 H28.4" stroke="#222" stroke-width="1"/>
<text x="30.4" y="394.1" font-size="7.2" fill="#222">80</text>
<path d="M23.3,415 H28.4" stroke="#222" stroke-width="1"/>
<text x="30.4" y="417.6" font-size="7.2" fill="#222">60</text>
<path d="M23.3,438.4 H28.4" stroke="#222" stroke-width="1"/>
<text x="30.4" y="441" font-size="7.2" fill="#222">40</text>
<path d="M23.3,461.8 H28.4" stroke="#222" stroke-width="1"/>
<text x="30.4" y="464.4" font-size="7.2" fill="#222">20</text>
<path d="M23.3,472.9 H28.4" stroke="#222" stroke-width="1"/>
<text x="30.4" y="475.5" font-size="7.2" fill="#222">1.0e+01</text>
<text transform="translate(7.4,420.5) rotate(-90)" font-size="9.6" fill="#222" text-anchor="middle">OMM distance</text>
<path d="M47,507.2 L93.7,503.7 L117.1,507.2 L149.8,529.4 L152.1,548.1 L146.3,555.1 L133.4,543.4 L110.1,529.4 L86.7,523.5 L68,520 L48.2,513 Z" fill="#d4d4d4" stroke="#aaa" stroke-width="0.4"/>
<path d="M468.1,519.7 L486.8,524.4 L505.5,531.4 L507.8,538.4 L498.5,543.1 L482.1,540.7 L465.8,538.4 Z" fill="#e0e0e0" stroke="#aaa" stroke-width="0.4"/>
<g filter="url(#tex3d)">
<path d="M169.7,381.7 L175.7,379.5 L181.6,383.2 L186.1,392.1 L186.1,405.5 L180.1,420.4 L169.7,432.4 L154.8,441.3 L139.9,447.3 L126.5,453.2 L114.6,459.2 L104.2,466.6 L104.2,459.2 L107.1,453.2 L117.6,444.3 L126.5,438.3 L133.9,435.3 L147.3,429.4 L160.8,423.4 L169.7,417.5 L174.2,408.5 L174.2,396.6 L169.7,389.2 Z" fill="url(#r1b)" />
<path d="M104.5,467 L114.6,460 L126.5,454 L139.9,448 L154.8,442 L169.7,433.2 L180.6,420.8 L186.7,405.5 L186.7,392" fill="none" stroke="#b0a8a8" stroke-width="0.8"/>
<path d="M93,458.5 L97,452 L103,447 L108,441 L113,437.5 L117,436 L113,443 L107,450 L101,455.5 L96,460 Z" fill="#4e5054" />
<path d="M138,431 L142,427 L147,426.5 L146,430 L141,433 Z" fill="#4e5054" />
<path d="M57.2,445 L61,437.6 L69.9,433.9 L80.3,427.9 L89.3,417.5 L96.7,407 L104.2,399.6 L113.1,392.1 L122,384.7 L125,380.2 L133.9,375.8 L147.3,371.3 L162.2,367.6 L172.7,363.8 L181.6,356.4 L184.6,349.7 L186.8,353.4 L190.5,350.4 L192.8,351.9 L190.5,359.4 L184.6,368.3 L178.6,374.3 L172.7,378.7 L165.2,383.2 L154.8,387.7 L139.9,398.1 L126.5,411.5 L119.1,423.4 L111.6,430.9 L102.7,436.8 L92.2,444.3 L81.8,448.8 L71.4,450.2 L61,447.3 Z" fill="url(#r1a)" />
<path d="M92.2,447.3 L104.2,423.4 L114.6,404.1 L122,389.2 L135,378.7 L160,371" fill="none" stroke="#d8d0d0" stroke-width="0.5" opacity="0.8"/>
<path d="M84.8,456.2 L89.3,459.2 L99.7,450.2 L108.6,441.3 L114.6,427.9 L120.5,426.4 L119.1,423.4 L125,414.5 L135,402.6 L150,391 L170,381" fill="none" stroke="#555" stroke-width="0.5"/>
<path d="M178.6,374.3 L183,378 L189.1,389.2 L192,396.6 L190.5,405.5 L188.5,399 L185,389 L180,380 Z" fill="#5a2a2c" />
<path d="M198.9,364.8 L208.8,363.6 L206.3,369.8 L200.1,374.7 L198.9,384.7 L196.4,392.1 L192.7,399.6 L190.2,407 L191.5,397 L194.5,386 L196,374 Z" fill="#8a8c90" />
<path d="M370,413.5 L390,414 L420,415.2 L437,416.5 L440,419 L425,421 L400,421.5 L370,419.5 Z" fill="#303032" />
<path d="M377.7,388 L391.9,383.6 L405,383.6 L418.2,391.3 L435.7,402.3 L448.8,411 L462,419.8 L470.7,426.3 L483.9,446 L492.6,461.4 L497,483.3 L495.9,493.1 L488.2,483.3 L479.5,470.1 L470.7,457 L462,439.5 L453.2,426.3 L440.1,417.6 L422.6,408.8 L402.8,408.8 L396.3,411 L387.5,404.4 L378.8,393.5 Z" fill="url(#r2b)" />
<path d="M390.8,372.7 L409.4,370.5 L422.6,369.4 L423.6,378.4 L435.7,383.5 L448.8,391.5 L458.7,391 L462,400.5 L470.7,410.5 L483.9,422 L501.4,426.3 L516.7,429.6 L518.9,468 L512.3,468 L501.4,457 L492.6,446 L483.9,435.1 L472.9,426.3 L462,417.6 L453.2,408.8 L440.1,400.1 L424.7,393.5 L409.4,386.9 L391.9,382.6 Z" fill="url(#r2a)" />
<path d="M391.9,383.6 L405,383.6 L418.2,391.3 L435.7,402.3 L448.8,411 L462,419.8 L470.7,426.3 L483.9,446 L492.6,461.4 L497,483.3" fill="none" stroke="#b8b0b0" stroke-width="0.6"/>
<path d="M447,426 L452,428 L458,433 L462,440 L460,446 L456,441 L452,436 L448,431 Z" fill="#3a3a3e" />
<path d="M455,445 L460,448 L462,456 L460,462 L457,468 L455,462 L456,455 Z" fill="#3a3a3e" />
<path d="M79.7,510.7 L88,506 L98.4,504.9 L107.7,510.7 L103.1,524.7 L92,524.5 L80,521 Z" fill="#6e3c3e" />
<path d="M101.9,494.3 L119.4,495.5 L142.8,506 L155.6,513 L149.8,520 L138.1,517.7 L128.8,510.7 L110.1,506 L100.7,503.7 Z" fill="url(#r3c)" />
<path d="M117.1,515.4 L126,517 L133.4,522.4 L138.1,543.4 L132,541 L126.4,538.7 L119.4,527 Z" fill="#6a3436" />
<ellipse cx="169" cy="537" rx="20" ry="22" fill="url(#r3e)"/>
<path d="M70.4,525.9 L98.4,528.2 L121.8,535.2 L135.8,543.4 L149.8,555.1 L161.5,564.4 L163.8,578.4 L156.8,592.5 L147.5,606.5 L142.8,604.1 L145.1,590.1 L142.8,578.4 L138.1,562.1 L131.1,555.1 L119.4,545.7 L98.4,537.6 L72.7,535.2 Z" fill="url(#r3f)" />
<ellipse cx="118.8" cy="563.2" rx="13.2" ry="13.6" fill="none" stroke="#505256" stroke-width="2.6"/>
<ellipse cx="120.5" cy="564" rx="8.5" ry="8" fill="none" stroke="#55575b" stroke-width="2"/><ellipse cx="122" cy="564.5" rx="4.5" ry="4.2" fill="none" stroke="#606266" stroke-width="1.2"/>
<path d="M393.4,523.2 L410,516 L426.1,512.7 L437.7,510.4 L463.4,512.7 L472.8,522 L468.1,531.4 L454.1,540.7 L435.4,550.1 L426.1,550.1 L416.7,540.7 L400.4,531.4 Z" fill="url(#r4a)" />
<path d="M381.7,536.1 L393.4,526.7 L405,530.2 L400.4,557.1 L381.7,557.1 Z" fill="#8c8e92" />
<path d="M392.2,557.1 L398,575.8 L416.7,587.5 L447.1,591 L475.1,587.5 L500.8,573.4 L519.5,557.1 L514.8,554.8 L510.2,543.1 L510.2,554.8 L496.1,561.8 L468.1,565.3 L440.1,564.1 L426.1,557.1 L416.7,545.4 L400.4,533.7 L393.4,540.7 Z" fill="url(#r4d)" />
<path d="M414,546 L426,544 L428,558 L416,560 Z" fill="#6e7074" />
<path d="M393,560 L398.6,576.6 L417,588.4 L447.1,592 L475.4,588.4 L501.3,574.2 L519.5,558" fill="none" stroke="#8a8282" stroke-width="1.2"/>
</g>
<path d="M274.64,454 L274.64,426.4 L277.02,426.4 L277.02,368.16 L279.02,368.16 L279.02,363.91 L282.53,363.91 L282.53,372.71 L284.79,372.71 L284.79,396.67 L287.16,396.67 L287.16,417.9 L289.67,417.9 L289.67,426.7 L292.3,426.7 L292.3,427.61 L294.43,427.61 L294.43,428.98 L296.56,428.98 L296.56,431.25 L299.06,431.25 L299.06,434.89 L301.32,434.89 L301.32,436.71 L303.45,436.71 L303.45,437.62 L305.58,437.62 L305.58,439.96 L308.21,439.96 L308.21,440.21 L310.84,440.21 L310.84,440.73 L313.47,440.73 L313.47,441.57 L316.1,441.57 L316.1,442.38 L318.73,442.38 L318.73,442.82 L321.36,442.82 L321.36,443.25 L323.99,443.25 L323.99,443.66 L326.62,443.66 L326.62,444.07 L329.25,444.07 L329.25,444.42 L331.88,444.42 L331.88,444.65 L334.51,444.65 L334.51,444.88 L337.14,444.88 L337.14,444.96 L339.77,444.96 L339.77,445.02 L342.4,445.02 L342.4,445.23 L345.03,445.23 L345.03,445.54 L347.66,445.54 L347.66,445.85 L350.29,445.85 L350.29,446.08 L352.92,446.08 L352.92,446.31 L355.55,446.31 L355.55,446.53 L358.18,446.53 L358.18,446.74 L360.81,446.74 L360.81,446.94 L363.44,446.94 L363.44,447.1 L366.07,447.1 L366.07,447.27 L368.7,447.27 L368.7,447.36 L371.33,447.36 L371.33,447.45 L373.96,447.45 L373.96,447.53 L376.59,447.53 L376.59,447.6 L379.22,447.6 L379.22,447.65 L379.85,447.65 L379.85,454 Z" fill="url(#hg1)"/>
<path d="M274.64,426.4 L277.02,426.4 L277.02,368.16 L279.02,368.16 L279.02,363.91 L282.53,363.91 L282.53,372.71 L284.79,372.71 L284.79,396.67 L287.16,396.67 L287.16,417.9 L289.67,417.9 L289.67,426.7 L292.3,426.7 L292.3,427.61 L294.43,427.61 L294.43,428.98 L296.56,428.98 L296.56,431.25 L299.06,431.25 L299.06,434.89 L301.32,434.89 L301.32,436.71 L303.45,436.71 L303.45,437.62 L305.58,437.62 L305.58,439.96 L308.21,439.96 L308.21,440.21 L310.84,440.21 L310.84,440.73 L313.47,440.73 L313.47,441.57 L316.1,441.57 L316.1,442.38 L318.73,442.38 L318.73,442.82 L321.36,442.82 L321.36,443.25 L323.99,443.25 L323.99,443.66 L326.62,443.66 L326.62,444.07 L329.25,444.07 L329.25,444.42 L331.88,444.42 L331.88,444.65 L334.51,444.65 L334.51,444.88 L337.14,444.88 L337.14,444.96 L339.77,444.96 L339.77,445.02 L342.4,445.02 L342.4,445.23 L345.03,445.23 L345.03,445.54 L347.66,445.54 L347.66,445.85 L350.29,445.85 L350.29,446.08 L352.92,446.08 L352.92,446.31 L355.55,446.31 L355.55,446.53 L358.18,446.53 L358.18,446.74 L360.81,446.74 L360.81,446.94 L363.44,446.94 L363.44,447.1 L366.07,447.1 L366.07,447.27 L368.7,447.27 L368.7,447.36 L371.33,447.36 L371.33,447.45 L373.96,447.45 L373.96,447.53 L376.59,447.53 L376.59,447.6 L379.22,447.6 L379.22,447.65 L379.85,447.65" fill="none" stroke="#93489a" stroke-width="0.7"/>
<path d="M379.85,447.65 V454" stroke="#222" stroke-width="0.8"/>
<path d="M280.53,361.41 V454" stroke="#a458b4" stroke-width="0.9" stroke-dasharray="1,1"/>
<path d="M255.1,361.2 V454 H380.25" stroke="#222" stroke-width="1.3" fill="none"/>
<path d="M252.4,454 H255.1" stroke="#222" stroke-width="0.9"/>
<text x="251.8" y="456.59" font-size="7.2" fill="#222" text-anchor="end">0</text>
<path d="M252.4,438.83 H255.1" stroke="#222" stroke-width="0.9"/>
<text x="251.8" y="441.43" font-size="7.2" fill="#222" text-anchor="end">5000</text>
<path d="M252.4,423.67 H255.1" stroke="#222" stroke-width="0.9"/>
<text x="251.8" y="426.26" font-size="7.2" fill="#222" text-anchor="end">10000</text>
<path d="M252.4,408.5 H255.1" stroke="#222" stroke-width="0.9"/>
<text x="251.8" y="411.09" font-size="7.2" fill="#222" text-anchor="end">15000</text>
<path d="M252.4,393.33 H255.1" stroke="#222" stroke-width="0.9"/>
<text x="251.8" y="395.93" font-size="7.2" fill="#222" text-anchor="end">20000</text>
<path d="M252.4,378.17 H255.1" stroke="#222" stroke-width="0.9"/>
<text x="251.8" y="380.76" font-size="7.2" fill="#222" text-anchor="end">25000</text>
<path d="M252.4,363 H255.1" stroke="#222" stroke-width="0.9"/>
<text x="251.8" y="365.59" font-size="7.2" fill="#222" text-anchor="end">30000</text>
<path d="M254.6,454 V456.2" stroke="#222" stroke-width="0.9"/>
<text x="254.6" y="465.6" font-size="7.2" fill="#222" text-anchor="middle">0</text>
<path d="M279.65,454 V456.2" stroke="#222" stroke-width="0.9"/>
<text x="279.65" y="465.6" font-size="7.2" fill="#222" text-anchor="middle">20</text>
<path d="M304.7,454 V456.2" stroke="#222" stroke-width="0.9"/>
<text x="304.7" y="465.6" font-size="7.2" fill="#222" text-anchor="middle">40</text>
<path d="M329.75,454 V456.2" stroke="#222" stroke-width="0.9"/>
<text x="329.75" y="465.6" font-size="7.2" fill="#222" text-anchor="middle">60</text>
<path d="M354.8,454 V456.2" stroke="#222" stroke-width="0.9"/>
<text x="354.8" y="465.6" font-size="7.2" fill="#222" text-anchor="middle">80</text>
<path d="M379.85,454 V456.2" stroke="#222" stroke-width="0.9"/>
<text x="312.84" y="476.6" class="b" font-size="10.3" fill="#222" text-anchor="middle">OMM distance (nm)</text>
<text transform="translate(227.2,405.5) rotate(-90)" class="b" font-size="10.3" fill="#222" text-anchor="middle">Area (nm<tspan font-size="6" dy="-3.5">2</tspan><tspan dy="3.5">)</tspan></text>
<text x="290.9" y="377.8" class="b" font-size="10.3" fill="#222">21 nm</text>
<path d="M580.3,445.1 L580.3,440.12 L582.62,440.12 L582.62,425.36 L585.18,425.36 L585.18,410.96 L587.86,410.96 L587.86,395.23 L590.54,395.23 L590.54,371.36 L592.87,371.36 L592.87,356.2 L595.2,356.2 L595.2,372.47 L597.52,372.47 L597.52,394.03 L599.5,394.03 L599.5,405.1 L601.48,405.1 L601.48,400.52 L603.81,400.52 L603.81,397.63 L605.9,397.63 L605.9,401.09 L608.46,401.09 L608.46,403.41 L611.14,403.41 L611.14,412.21 L613.47,412.21 L613.47,415.1 L615.57,415.1 L615.57,416.65 L617.54,416.65 L617.54,417.99 L619.87,417.99 L619.87,421.3 L622.32,421.3 L622.32,422.87 L624.76,422.87 L624.76,424 L627.21,424 L627.21,425.13 L629.65,425.13 L629.65,426.25 L632.09,426.25 L632.09,427.34 L634.54,427.34 L634.54,428.38 L636.98,428.38 L636.98,429.32 L639.43,429.32 L639.43,430.08 L641.87,430.08 L641.87,430.83 L644.32,430.83 L644.32,431.34 L646.76,431.34 L646.76,431.81 L649.2,431.81 L649.2,432.39 L651.65,432.39 L651.65,433.13 L654.09,433.13 L654.09,433.87 L656.54,433.87 L656.54,434.59 L658.98,434.59 L658.98,435.29 L661.43,435.29 L661.43,435.92 L663.87,435.92 L663.87,436.35 L666.32,436.35 L666.32,436.78 L668.76,436.78 L668.76,437.18 L671.2,437.18 L671.2,437.47 L673.65,437.47 L673.65,437.77 L676.09,437.77 L676.09,438.07 L678.54,438.07 L678.54,438.33 L680.4,438.33 L680.4,445.1 Z" fill="url(#hg2)"/>
<path d="M580.3,440.12 L582.62,440.12 L582.62,425.36 L585.18,425.36 L585.18,410.96 L587.86,410.96 L587.86,395.23 L590.54,395.23 L590.54,371.36 L592.87,371.36 L592.87,356.2 L595.2,356.2 L595.2,372.47 L597.52,372.47 L597.52,394.03 L599.5,394.03 L599.5,405.1 L601.48,405.1 L601.48,400.52 L603.81,400.52 L603.81,397.63 L605.9,397.63 L605.9,401.09 L608.46,401.09 L608.46,403.41 L611.14,403.41 L611.14,412.21 L613.47,412.21 L613.47,415.1 L615.57,415.1 L615.57,416.65 L617.54,416.65 L617.54,417.99 L619.87,417.99 L619.87,421.3 L622.32,421.3 L622.32,422.87 L624.76,422.87 L624.76,424 L627.21,424 L627.21,425.13 L629.65,425.13 L629.65,426.25 L632.09,426.25 L632.09,427.34 L634.54,427.34 L634.54,428.38 L636.98,428.38 L636.98,429.32 L639.43,429.32 L639.43,430.08 L641.87,430.08 L641.87,430.83 L644.32,430.83 L644.32,431.34 L646.76,431.34 L646.76,431.81 L649.2,431.81 L649.2,432.39 L651.65,432.39 L651.65,433.13 L654.09,433.13 L654.09,433.87 L656.54,433.87 L656.54,434.59 L658.98,434.59 L658.98,435.29 L661.43,435.29 L661.43,435.92 L663.87,435.92 L663.87,436.35 L666.32,436.35 L666.32,436.78 L668.76,436.78 L668.76,437.18 L671.2,437.18 L671.2,437.47 L673.65,437.47 L673.65,437.77 L676.09,437.77 L676.09,438.07 L678.54,438.07 L678.54,438.33 L680.4,438.33" fill="none" stroke="#93489a" stroke-width="0.7"/>
<path d="M680.4,438.33 V445.1" stroke="#222" stroke-width="0.8"/>
<path d="M593.1,353.7 V445.1" stroke="#a458b4" stroke-width="0.9" stroke-dasharray="1,1"/>
<path d="M564.5,352.6 V445.1 H680.8" stroke="#222" stroke-width="1.3" fill="none"/>
<path d="M561.8,445.1 H564.5" stroke="#222" stroke-width="0.9"/>
<text x="561.2" y="447.51" font-size="6.7" fill="#222" text-anchor="end">0</text>
<path d="M561.8,433.99 H564.5" stroke="#222" stroke-width="0.9"/>
<text x="561.2" y="436.4" font-size="6.7" fill="#222" text-anchor="end">2500</text>
<path d="M561.8,422.88 H564.5" stroke="#222" stroke-width="0.9"/>
<text x="561.2" y="425.29" font-size="6.7" fill="#222" text-anchor="end">5000</text>
<path d="M561.8,411.76 H564.5" stroke="#222" stroke-width="0.9"/>
<text x="561.2" y="414.17" font-size="6.7" fill="#222" text-anchor="end">7500</text>
<path d="M561.8,400.65 H564.5" stroke="#222" stroke-width="0.9"/>
<text x="561.2" y="403.06" font-size="6.7" fill="#222" text-anchor="end">10000</text>
<path d="M561.8,389.54 H564.5" stroke="#222" stroke-width="0.9"/>
<text x="561.2" y="391.95" font-size="6.7" fill="#222" text-anchor="end">12500</text>
<path d="M561.8,378.43 H564.5" stroke="#222" stroke-width="0.9"/>
<text x="561.2" y="380.84" font-size="6.7" fill="#222" text-anchor="end">15000</text>
<path d="M561.8,367.31 H564.5" stroke="#222" stroke-width="0.9"/>
<text x="561.2" y="369.72" font-size="6.7" fill="#222" text-anchor="end">17500</text>
<path d="M561.8,356.2 H564.5" stroke="#222" stroke-width="0.9"/>
<text x="561.2" y="358.61" font-size="6.7" fill="#222" text-anchor="end">20000</text>
<path d="M564,445.1 V447.3" stroke="#222" stroke-width="0.9"/>
<text x="564" y="456.7" font-size="7.2" fill="#222" text-anchor="middle">0</text>
<path d="M587.28,445.1 V447.3" stroke="#222" stroke-width="0.9"/>
<text x="587.28" y="456.7" font-size="7.2" fill="#222" text-anchor="middle">20</text>
<path d="M610.56,445.1 V447.3" stroke="#222" stroke-width="0.9"/>
<text x="610.56" y="456.7" font-size="7.2" fill="#222" text-anchor="middle">40</text>
<path d="M633.84,445.1 V447.3" stroke="#222" stroke-width="0.9"/>
<text x="633.84" y="456.7" font-size="7.2" fill="#222" text-anchor="middle">60</text>
<path d="M657.12,445.1 V447.3" stroke="#222" stroke-width="0.9"/>
<text x="657.12" y="456.7" font-size="7.2" fill="#222" text-anchor="middle">80</text>
<path d="M680.4,445.1 V447.3" stroke="#222" stroke-width="0.9"/>
<text x="621.2" y="469.6" class="b" font-size="10.3" fill="#222" text-anchor="middle">OMM distance (nm)</text>
<text transform="translate(535.5,393.7) rotate(-90)" class="b" font-size="10.3" fill="#222" text-anchor="middle">Area (nm<tspan font-size="6" dy="-3.5">2</tspan><tspan dy="3.5">)</tspan></text>
<text x="606.7" y="371.6" class="b" font-size="10.3" fill="#222">25 nm</text>
<path d="M279.55,578.4 L279.55,578.08 L281.55,578.08 L281.55,577.65 L283.54,577.65 L283.54,577.44 L285.54,577.44 L285.54,577.33 L288.78,577.33 L288.78,575.42 L292.02,575.42 L292.02,574.14 L294.27,574.14 L294.27,569.5 L296.89,569.5 L296.89,559.64 L299.51,559.64 L299.51,548.24 L301.63,548.24 L301.63,537.05 L304.25,537.05 L304.25,524.16 L306.87,524.16 L306.87,499.22 L309.49,499.22 L309.49,500.18 L311.86,500.18 L311.86,500.18 L314.36,500.18 L314.36,524.16 L316.98,524.16 L316.98,535.35 L319.59,535.35 L319.59,544.19 L321.97,544.19 L321.97,551.12 L324.46,551.12 L324.46,554.42 L326.95,554.42 L326.95,556.98 L329.45,556.98 L329.45,559.32 L332.07,559.32 L332.07,563.61 L334.69,563.61 L334.69,565.37 L337.31,565.37 L337.31,566.55 L339.93,566.55 L339.93,567.36 L342.55,567.36 L342.55,568.04 L345.17,568.04 L345.17,568.64 L347.79,568.64 L347.79,569.19 L350.41,569.19 L350.41,569.57 L353.03,569.57 L353.03,569.89 L355.65,569.89 L355.65,570.25 L358.27,570.25 L358.27,570.69 L360.89,570.69 L360.89,571.14 L363.51,571.14 L363.51,571.44 L366.13,571.44 L366.13,571.74 L368.75,571.74 L368.75,572.04 L371.37,572.04 L371.37,572.31 L373.99,572.31 L373.99,572.58 L376.61,572.58 L376.61,572.85 L379.23,572.85 L379.23,572.96 L379.35,572.96 L379.35,578.4 Z" fill="url(#hg3)"/>
<path d="M279.55,578.08 L281.55,578.08 L281.55,577.65 L283.54,577.65 L283.54,577.44 L285.54,577.44 L285.54,577.33 L288.78,577.33 L288.78,575.42 L292.02,575.42 L292.02,574.14 L294.27,574.14 L294.27,569.5 L296.89,569.5 L296.89,559.64 L299.51,559.64 L299.51,548.24 L301.63,548.24 L301.63,537.05 L304.25,537.05 L304.25,524.16 L306.87,524.16 L306.87,499.22 L309.49,499.22 L309.49,500.18 L311.86,500.18 L311.86,500.18 L314.36,500.18 L314.36,524.16 L316.98,524.16 L316.98,535.35 L319.59,535.35 L319.59,544.19 L321.97,544.19 L321.97,551.12 L324.46,551.12 L324.46,554.42 L326.95,554.42 L326.95,556.98 L329.45,556.98 L329.45,559.32 L332.07,559.32 L332.07,563.61 L334.69,563.61 L334.69,565.37 L337.31,565.37 L337.31,566.55 L339.93,566.55 L339.93,567.36 L342.55,567.36 L342.55,568.04 L345.17,568.04 L345.17,568.64 L347.79,568.64 L347.79,569.19 L350.41,569.19 L350.41,569.57 L353.03,569.57 L353.03,569.89 L355.65,569.89 L355.65,570.25 L358.27,570.25 L358.27,570.69 L360.89,570.69 L360.89,571.14 L363.51,571.14 L363.51,571.44 L366.13,571.44 L366.13,571.74 L368.75,571.74 L368.75,572.04 L371.37,572.04 L371.37,572.31 L373.99,572.31 L373.99,572.58 L376.61,572.58 L376.61,572.85 L379.23,572.85 L379.23,572.96 L379.35,572.96" fill="none" stroke="#93489a" stroke-width="0.7"/>
<path d="M379.35,572.96 V578.4" stroke="#222" stroke-width="0.8"/>
<path d="M307.62,496.72 V578.4" stroke="#a458b4" stroke-width="0.9" stroke-dasharray="1,1"/>
<path d="M255.1,494.7 V578.4 H379.75" stroke="#222" stroke-width="1.3" fill="none"/>
<path d="M252.4,578.4 H255.1" stroke="#222" stroke-width="0.9"/>
<text x="251.8" y="580.81" font-size="6.7" fill="#222" text-anchor="end">0</text>
<path d="M252.4,567.74 H255.1" stroke="#222" stroke-width="0.9"/>
<text x="251.8" y="570.15" font-size="6.7" fill="#222" text-anchor="end">1000</text>
<path d="M252.4,557.09 H255.1" stroke="#222" stroke-width="0.9"/>
<text x="251.8" y="559.5" font-size="6.7" fill="#222" text-anchor="end">2000</text>
<path d="M252.4,546.43 H255.1" stroke="#222" stroke-width="0.9"/>
<text x="251.8" y="548.84" font-size="6.7" fill="#222" text-anchor="end">3000</text>
<path d="M252.4,535.77 H255.1" stroke="#222" stroke-width="0.9"/>
<text x="251.8" y="538.18" font-size="6.7" fill="#222" text-anchor="end">4000</text>
<path d="M252.4,525.11 H255.1" stroke="#222" stroke-width="0.9"/>
<text x="251.8" y="527.53" font-size="6.7" fill="#222" text-anchor="end">5000</text>
<path d="M252.4,514.46 H255.1" stroke="#222" stroke-width="0.9"/>
<text x="251.8" y="516.87" font-size="6.7" fill="#222" text-anchor="end">6000</text>
<path d="M252.4,503.8 H255.1" stroke="#222" stroke-width="0.9"/>
<text x="251.8" y="506.21" font-size="6.7" fill="#222" text-anchor="end">7000</text>
<path d="M254.6,578.4 V580.6" stroke="#222" stroke-width="0.9"/>
<text x="254.6" y="589.5" font-size="7.2" fill="#222" text-anchor="middle">0</text>
<path d="M279.55,578.4 V580.6" stroke="#222" stroke-width="0.9"/>
<text x="279.55" y="589.5" font-size="7.2" fill="#222" text-anchor="middle">20</text>
<path d="M304.5,578.4 V580.6" stroke="#222" stroke-width="0.9"/>
<text x="304.5" y="589.5" font-size="7.2" fill="#222" text-anchor="middle">40</text>
<path d="M329.45,578.4 V580.6" stroke="#222" stroke-width="0.9"/>
<text x="329.45" y="589.5" font-size="7.2" fill="#222" text-anchor="middle">60</text>
<path d="M354.4,578.4 V580.6" stroke="#222" stroke-width="0.9"/>
<text x="354.4" y="589.5" font-size="7.2" fill="#222" text-anchor="middle">80</text>
<path d="M379.35,578.4 V580.6" stroke="#222" stroke-width="0.9"/>
<text x="316.6" y="603.5" class="b" font-size="10.3" fill="#222" text-anchor="middle">OMM distance (nm)</text>
<text transform="translate(228.2,535.5) rotate(-90)" class="b" font-size="10.3" fill="#222" text-anchor="middle">Area (nm<tspan font-size="6" dy="-3.5">2</tspan><tspan dy="3.5">)</tspan></text>
<text x="323.7" y="504.7" class="b" font-size="10.3" fill="#222">42 nm</text>
<path d="M581.75,578.4 L581.75,577.41 L584.25,577.41 L584.25,568.1 L586.99,568.1 L586.99,515.44 L589.12,515.44 L589.12,490.88 L589.99,490.88 L589.99,485.34 L590.86,485.34 L590.86,490.88 L591.98,490.88 L591.98,504.25 L594.48,504.25 L594.48,533.06 L596.97,533.06 L596.97,541.97 L599.34,541.97 L599.34,548.2 L601.96,548.2 L601.96,550.48 L604.46,550.48 L604.46,551.97 L606.95,551.97 L606.95,552.66 L609.32,552.66 L609.32,556.72 L611.82,556.72 L611.82,561.27 L614.31,561.27 L614.31,563.15 L616.81,563.15 L616.81,565.03 L619.3,565.03 L619.3,566.92 L621.8,566.92 L621.8,569.09 L624.54,569.09 L624.54,570.14 L627.16,570.14 L627.16,570.45 L629.78,570.45 L629.78,570.77 L632.4,570.77 L632.4,571.09 L635.02,571.09 L635.02,571.28 L637.64,571.28 L637.64,571.41 L640.26,571.41 L640.26,571.59 L642.88,571.59 L642.88,571.78 L645.5,571.78 L645.5,571.97 L648.12,571.97 L648.12,572.08 L650.74,572.08 L650.74,572.18 L653.36,572.18 L653.36,572.28 L655.98,572.28 L655.98,572.39 L658.6,572.39 L658.6,572.49 L661.22,572.49 L661.22,572.6 L663.84,572.6 L663.84,572.7 L666.46,572.7 L666.46,572.8 L669.08,572.8 L669.08,572.91 L671.7,572.91 L671.7,573.01 L674.32,573.01 L674.32,573.12 L676.94,573.12 L676.94,573.22 L679.56,573.22 L679.56,573.32 L682.18,573.32 L682.18,573.41 L684.05,573.41 L684.05,578.4 Z" fill="url(#hg4)"/>
<path d="M581.75,577.41 L584.25,577.41 L584.25,568.1 L586.99,568.1 L586.99,515.44 L589.12,515.44 L589.12,490.88 L589.99,490.88 L589.99,485.34 L590.86,485.34 L590.86,490.88 L591.98,490.88 L591.98,504.25 L594.48,504.25 L594.48,533.06 L596.97,533.06 L596.97,541.97 L599.34,541.97 L599.34,548.2 L601.96,548.2 L601.96,550.48 L604.46,550.48 L604.46,551.97 L606.95,551.97 L606.95,552.66 L609.32,552.66 L609.32,556.72 L611.82,556.72 L611.82,561.27 L614.31,561.27 L614.31,563.15 L616.81,563.15 L616.81,565.03 L619.3,565.03 L619.3,566.92 L621.8,566.92 L621.8,569.09 L624.54,569.09 L624.54,570.14 L627.16,570.14 L627.16,570.45 L629.78,570.45 L629.78,570.77 L632.4,570.77 L632.4,571.09 L635.02,571.09 L635.02,571.28 L637.64,571.28 L637.64,571.41 L640.26,571.41 L640.26,571.59 L642.88,571.59 L642.88,571.78 L645.5,571.78 L645.5,571.97 L648.12,571.97 L648.12,572.08 L650.74,572.08 L650.74,572.18 L653.36,572.18 L653.36,572.28 L655.98,572.28 L655.98,572.39 L658.6,572.39 L658.6,572.49 L661.22,572.49 L661.22,572.6 L663.84,572.6 L663.84,572.7 L666.46,572.7 L666.46,572.8 L669.08,572.8 L669.08,572.91 L671.7,572.91 L671.7,573.01 L674.32,573.01 L674.32,573.12 L676.94,573.12 L676.94,573.22 L679.56,573.22 L679.56,573.32 L682.18,573.32 L682.18,573.41 L684.05,573.41" fill="none" stroke="#93489a" stroke-width="0.7"/>
<path d="M684.05,573.41 V578.4" stroke="#222" stroke-width="0.8"/>
<path d="M590.36,482.84 V578.4" stroke="#a458b4" stroke-width="0.9" stroke-dasharray="1,1"/>
<path d="M559.8,485.4 V578.4 H685" stroke="#222" stroke-width="1.3" fill="none"/>
<path d="M557.1,578.4 H559.8" stroke="#222" stroke-width="0.9"/>
<text x="556.5" y="580.81" font-size="6.7" fill="#222" text-anchor="end">0</text>
<path d="M557.1,558.6 H559.8" stroke="#222" stroke-width="0.9"/>
<text x="556.5" y="561.01" font-size="6.7" fill="#222" text-anchor="end">2000</text>
<path d="M557.1,538.8 H559.8" stroke="#222" stroke-width="0.9"/>
<text x="556.5" y="541.21" font-size="6.7" fill="#222" text-anchor="end">4000</text>
<path d="M557.1,519 H559.8" stroke="#222" stroke-width="0.9"/>
<text x="556.5" y="521.41" font-size="6.7" fill="#222" text-anchor="end">6000</text>
<path d="M557.1,499.2 H559.8" stroke="#222" stroke-width="0.9"/>
<text x="556.5" y="501.61" font-size="6.7" fill="#222" text-anchor="end">8000</text>
<path d="M559.3,578.4 V580.6" stroke="#222" stroke-width="0.9"/>
<text x="559.3" y="589.2" font-size="7.2" fill="#222" text-anchor="middle">0</text>
<path d="M584.25,578.4 V580.6" stroke="#222" stroke-width="0.9"/>
<text x="584.25" y="589.2" font-size="7.2" fill="#222" text-anchor="middle">20</text>
<path d="M609.2,578.4 V580.6" stroke="#222" stroke-width="0.9"/>
<text x="609.2" y="589.2" font-size="7.2" fill="#222" text-anchor="middle">40</text>
<path d="M634.15,578.4 V580.6" stroke="#222" stroke-width="0.9"/>
<text x="634.15" y="589.2" font-size="7.2" fill="#222" text-anchor="middle">60</text>
<path d="M659.1,578.4 V580.6" stroke="#222" stroke-width="0.9"/>
<text x="659.1" y="589.2" font-size="7.2" fill="#222" text-anchor="middle">80</text>
<path d="M684.05,578.4 V580.6" stroke="#222" stroke-width="0.9"/>
<text x="623.4" y="603.5" class="b" font-size="10.3" fill="#222" text-anchor="middle">OMM distance (nm)</text>
<text transform="translate(536,532.1) rotate(-90)" class="b" font-size="10.3" fill="#222" text-anchor="middle">Area (nm<tspan font-size="6" dy="-3.5">2</tspan><tspan dy="3.5">)</tspan></text>
<text x="604.6" y="506.1" class="b" font-size="10.3" fill="#222">25 nm</text>
<!-- g chart -->
<path d="M311.25,901 L311.25,899.75 L313.77,899.75 L313.77,899.46 L316.29,899.46 L316.29,895.6 L318.8,895.6 L318.8,895.6 L321.31,895.6 L321.31,895.6 L323.83,895.6 L323.83,884.02 L326.35,884.02 L326.35,857 L328.86,857 L328.86,829.2 L331.38,829.2 L331.38,807.59 L333.89,807.59 L333.89,805.27 L336.4,805.27 L336.4,812.22 L338.92,812.22 L338.92,810.68 L341.44,810.68 L341.44,781.34 L343.95,781.34 L343.95,781.34 L346.47,781.34 L346.47,773.62 L348.98,773.62 L348.98,770.53 L351.5,770.53 L351.5,777.48 L354.01,777.48 L354.01,770.53 L356.52,770.53 L356.52,762.81 L359.04,762.81 L359.04,754.01 L361.56,754.01 L361.56,751.39 L364.07,751.39 L364.07,749.3 L366.59,749.3 L366.59,749.3 L369.1,749.3 L369.1,754.86 L371.62,754.86 L371.62,771 L374.13,771 L374.13,767.98 L376.64,767.98 L376.64,768.83 L379.16,768.83 L379.16,762.19 L381.68,762.19 L381.68,761.04 L384.19,761.04 L384.19,766.9 L386.71,766.9 L386.71,765.9 L389.22,765.9 L389.22,768.22 L391.74,768.22 L391.74,771.54 L394.25,771.54 L394.25,768.22 L396.76,768.22 L396.76,771.54 L399.28,771.54 L399.28,775.01 L401.8,775.01 L401.8,780.88 L404.31,780.88 L404.31,789.06 L406.83,789.06 L406.83,797.32 L409.34,797.32 L409.34,797.32 L411.86,797.32 L411.86,802.03 L414.37,802.03 L414.37,806.66 L416.88,806.66 L416.88,810.21 L419.4,810.21 L419.4,813.69 L421.92,813.69 L421.92,817.24 L424.43,817.24 L424.43,817.24 L426.95,817.24 L426.95,819.63 L429.46,819.63 L429.46,819.63 L431.98,819.63 L431.98,819.63 L434.49,819.63 L434.49,819.63 L437,819.63 L437,818.4 L439.52,818.4 L439.52,818.4 L442.03,818.4 L442.03,821.72 L444.55,821.72 L444.55,824.03 L447.06,824.03 L447.06,826.27 L449.58,826.27 L449.58,827.81 L452.1,827.81 L452.1,829.34 L454.61,829.34 L454.61,830.75 L457.12,830.75 L457.12,832.15 L459.64,832.15 L459.64,833.33 L462.15,833.33 L462.15,834.49 L464.67,834.49 L464.67,836.06 L467.19,836.06 L467.19,837.66 L469.7,837.66 L469.7,838.95 L472.22,838.95 L472.22,839.92 L474.73,839.92 L474.73,840.85 L477.25,840.85 L477.25,841.49 L479.76,841.49 L479.76,842.13 L482.27,842.13 L482.27,842.69 L484.79,842.69 L484.79,843.2 L487.31,843.2 L487.31,843.72 L489.82,843.72 L489.82,844.72 L492.34,844.72 L492.34,845.92 L494.85,845.92 L494.85,847.13 L497.37,847.13 L497.37,848.03 L499.88,848.03 L499.88,848.62 L502.39,848.62 L502.39,849.22 L504.91,849.22 L504.91,849.57 L507.43,849.57 L507.43,849.89 L509.94,849.89 L509.94,850.05 L512.46,850.05 L512.46,850.05 L514.97,850.05 L514.97,850.24 L517.49,850.24 L517.49,852.17 L520,852.17 L520,901 Z" fill="#c8a4d0"/>
<path d="M321.31,901 L321.31,901 L323.83,901 L323.83,886.33 L326.35,886.33 L326.35,861.63 L328.86,861.63 L328.86,861.63 L331.38,861.63 L331.38,843.1 L333.89,843.1 L333.89,832.29 L336.4,832.29 L336.4,833.84 L338.92,833.84 L338.92,829.2 L341.44,829.2 L341.44,833.84 L343.95,833.84 L343.95,833.84 L346.47,833.84 L346.47,837.7 L348.98,837.7 L348.98,842.33 L351.5,842.33 L351.5,841.56 L354.01,841.56 L354.01,843.87 L356.52,843.87 L356.52,837.7 L359.04,837.7 L359.04,834.61 L361.56,834.61 L361.56,836.92 L364.07,836.92 L364.07,828.43 L366.59,828.43 L366.59,831.52 L369.1,831.52 L369.1,825.34 L371.62,825.34 L371.62,822.26 L374.13,822.26 L374.13,821.48 L376.64,821.48 L376.64,809.6 L379.16,809.6 L379.16,791.99 L381.68,791.99 L381.68,775.01 L384.19,775.01 L384.19,745.21 L386.71,745.21 L386.71,755.71 L389.22,755.71 L389.22,770.38 L391.74,770.38 L391.74,772.08 L394.25,772.08 L394.25,783.27 L396.76,783.27 L396.76,768.6 L399.28,768.6 L399.28,749.3 L401.8,749.3 L401.8,732.94 L404.31,732.94 L404.31,731.31 L406.83,731.31 L406.83,738.19 L409.34,738.19 L409.34,769.22 L411.86,769.22 L411.86,769.22 L414.37,769.22 L414.37,778.64 L416.88,778.64 L416.88,778.64 L419.4,778.64 L419.4,780.88 L421.92,780.88 L421.92,794.39 L424.43,794.39 L424.43,794.39 L426.95,794.39 L426.95,773.31 L429.46,773.31 L429.46,780.88 L431.98,780.88 L431.98,783.27 L434.49,783.27 L434.49,778.02 L437,778.02 L437,790.3 L439.52,790.3 L439.52,795.11 L442.03,795.11 L442.03,800.33 L444.55,800.33 L444.55,800.64 L447.06,800.64 L447.06,810.83 L449.58,810.83 L449.58,810.83 L452.1,810.83 L452.1,806.58 L454.61,806.58 L454.61,806.58 L457.12,806.58 L457.12,811.45 L459.64,811.45 L459.64,805.27 L462.15,805.27 L462.15,811.83 L464.67,811.83 L464.67,819.09 L467.19,819.09 L467.19,817.08 L469.7,817.08 L469.7,817.08 L472.22,817.08 L472.22,819.09 L474.73,819.09 L474.73,824.03 L477.25,824.03 L477.25,822.26 L479.76,822.26 L479.76,822.26 L482.27,822.26 L482.27,824.03 L484.79,824.03 L484.79,823.03 L487.31,823.03 L487.31,826.81 L489.82,826.81 L489.82,822.26 L492.34,822.26 L492.34,826.12 L494.85,826.12 L494.85,826.12 L497.37,826.12 L497.37,826.12 L499.88,826.12 L499.88,828.43 L502.39,828.43 L502.39,828.43 L504.91,828.43 L504.91,827.27 L507.43,827.27 L507.43,830.9 L509.94,830.9 L509.94,831.52 L512.46,831.52 L512.46,830.75 L514.97,830.75 L514.97,827.27 L517.49,827.27 L517.49,824.03 L520,824.03 L520,901 Z" fill="#a9d7a1"/>
<path d="M311.25,901 L311.25,901 L313.77,901 L313.77,901 L316.29,901 L316.29,901 L318.8,901 L318.8,901 L321.31,901 L321.31,901 L323.83,901 L323.83,886.33 L326.35,886.33 L326.35,861.63 L328.86,861.63 L328.86,861.63 L331.38,861.63 L331.38,843.1 L333.89,843.1 L333.89,832.29 L336.4,832.29 L336.4,833.84 L338.92,833.84 L338.92,829.2 L341.44,829.2 L341.44,833.84 L343.95,833.84 L343.95,833.84 L346.47,833.84 L346.47,837.7 L348.98,837.7 L348.98,842.33 L351.5,842.33 L351.5,841.56 L354.01,841.56 L354.01,843.87 L356.52,843.87 L356.52,837.7 L359.04,837.7 L359.04,834.61 L361.56,834.61 L361.56,836.92 L364.07,836.92 L364.07,828.43 L366.59,828.43 L366.59,831.52 L369.1,831.52 L369.1,825.34 L371.62,825.34 L371.62,822.26 L374.13,822.26 L374.13,821.48 L376.64,821.48 L376.64,809.6 L379.16,809.6 L379.16,791.99 L381.68,791.99 L381.68,775.01 L384.19,775.01 L384.19,766.9 L386.71,766.9 L386.71,765.9 L389.22,765.9 L389.22,770.38 L391.74,770.38 L391.74,772.08 L394.25,772.08 L394.25,783.27 L396.76,783.27 L396.76,771.54 L399.28,771.54 L399.28,775.01 L401.8,775.01 L401.8,780.88 L404.31,780.88 L404.31,789.06 L406.83,789.06 L406.83,797.32 L409.34,797.32 L409.34,797.32 L411.86,797.32 L411.86,802.03 L414.37,802.03 L414.37,806.66 L416.88,806.66 L416.88,810.21 L419.4,810.21 L419.4,813.69 L421.92,813.69 L421.92,817.24 L424.43,817.24 L424.43,817.24 L426.95,817.24 L426.95,819.63 L429.46,819.63 L429.46,819.63 L431.98,819.63 L431.98,819.63 L434.49,819.63 L434.49,819.63 L437,819.63 L437,818.4 L439.52,818.4 L439.52,818.4 L442.03,818.4 L442.03,821.72 L444.55,821.72 L444.55,824.03 L447.06,824.03 L447.06,826.27 L449.58,826.27 L449.58,827.81 L452.1,827.81 L452.1,829.34 L454.61,829.34 L454.61,830.75 L457.12,830.75 L457.12,832.15 L459.64,832.15 L459.64,833.33 L462.15,833.33 L462.15,834.49 L464.67,834.49 L464.67,836.06 L467.19,836.06 L467.19,837.66 L469.7,837.66 L469.7,838.95 L472.22,838.95 L472.22,839.92 L474.73,839.92 L474.73,840.85 L477.25,840.85 L477.25,841.49 L479.76,841.49 L479.76,842.13 L482.27,842.13 L482.27,842.69 L484.79,842.69 L484.79,843.2 L487.31,843.2 L487.31,843.72 L489.82,843.72 L489.82,844.72 L492.34,844.72 L492.34,845.92 L494.85,845.92 L494.85,847.13 L497.37,847.13 L497.37,848.03 L499.88,848.03 L499.88,848.62 L502.39,848.62 L502.39,849.22 L504.91,849.22 L504.91,849.57 L507.43,849.57 L507.43,849.89 L509.94,849.89 L509.94,850.05 L512.46,850.05 L512.46,850.05 L514.97,850.05 L514.97,850.24 L517.49,850.24 L517.49,852.17 L520,852.17 L520,901 Z" fill="#8bbf94"/>
<path d="M311.25,899.75 L313.77,899.75 L313.77,899.46 L316.29,899.46 L316.29,895.6 L318.8,895.6 L318.8,895.6 L321.31,895.6 L321.31,895.6 L323.83,895.6 L323.83,884.02 L326.35,884.02 L326.35,857 L328.86,857 L328.86,829.2 L331.38,829.2 L331.38,807.59 L333.89,807.59 L333.89,805.27 L336.4,805.27 L336.4,812.22 L338.92,812.22 L338.92,810.68 L341.44,810.68 L341.44,781.34 L343.95,781.34 L343.95,781.34 L346.47,781.34 L346.47,773.62 L348.98,773.62 L348.98,770.53 L351.5,770.53 L351.5,777.48 L354.01,777.48 L354.01,770.53 L356.52,770.53 L356.52,762.81 L359.04,762.81 L359.04,754.01 L361.56,754.01 L361.56,751.39 L364.07,751.39 L364.07,749.3 L366.59,749.3 L366.59,749.3 L369.1,749.3 L369.1,754.86 L371.62,754.86 L371.62,771 L374.13,771 L374.13,767.98 L376.64,767.98 L376.64,768.83 L379.16,768.83 L379.16,762.19 L381.68,762.19" fill="none" stroke="#9a6aa4" stroke-width="0.8"/>
<path d="M381.68,761.04 L384.19,761.04 L384.19,766.9 L386.71,766.9 L386.71,765.9 L389.22,765.9 L389.22,768.22 L391.74,768.22 L391.74,771.54 L394.25,771.54 L394.25,768.22 L396.76,768.22 L396.76,771.54 L399.28,771.54 L399.28,775.01 L401.8,775.01 L401.8,780.88 L404.31,780.88 L404.31,789.06 L406.83,789.06 L406.83,797.32 L409.34,797.32 L409.34,797.32 L411.86,797.32 L411.86,802.03 L414.37,802.03 L414.37,806.66 L416.88,806.66 L416.88,810.21 L419.4,810.21 L419.4,813.69 L421.92,813.69 L421.92,817.24 L424.43,817.24 L424.43,817.24 L426.95,817.24 L426.95,819.63 L429.46,819.63 L429.46,819.63 L431.98,819.63 L431.98,819.63 L434.49,819.63 L434.49,819.63 L437,819.63 L437,818.4 L439.52,818.4 L439.52,818.4 L442.03,818.4 L442.03,821.72 L444.55,821.72 L444.55,824.03 L447.06,824.03 L447.06,826.27 L449.58,826.27 L449.58,827.81 L452.1,827.81 L452.1,829.34 L454.61,829.34 L454.61,830.75 L457.12,830.75 L457.12,832.15 L459.64,832.15 L459.64,833.33 L462.15,833.33 L462.15,834.49 L464.67,834.49 L464.67,836.06 L467.19,836.06 L467.19,837.66 L469.7,837.66 L469.7,838.95 L472.22,838.95 L472.22,839.92 L474.73,839.92 L474.73,840.85 L477.25,840.85 L477.25,841.49 L479.76,841.49 L479.76,842.13 L482.27,842.13 L482.27,842.69 L484.79,842.69 L484.79,843.2 L487.31,843.2 L487.31,843.72 L489.82,843.72 L489.82,844.72 L492.34,844.72 L492.34,845.92 L494.85,845.92 L494.85,847.13 L497.37,847.13 L497.37,848.03 L499.88,848.03 L499.88,848.62 L502.39,848.62 L502.39,849.22 L504.91,849.22 L504.91,849.57 L507.43,849.57 L507.43,849.89 L509.94,849.89 L509.94,850.05 L512.46,850.05 L512.46,850.05 L514.97,850.05 L514.97,850.24 L517.49,850.24 L517.49,852.17 L520,852.17" fill="none" stroke="#4e6e58" stroke-width="0.8"/>
<path d="M321.31,901 L323.83,901 L323.83,886.33 L326.35,886.33 L326.35,861.63 L328.86,861.63 L328.86,861.63 L331.38,861.63 L331.38,843.1 L333.89,843.1 L333.89,832.29 L336.4,832.29 L336.4,833.84 L338.92,833.84 L338.92,829.2 L341.44,829.2 L341.44,833.84 L343.95,833.84 L343.95,833.84 L346.47,833.84 L346.47,837.7 L348.98,837.7 L348.98,842.33 L351.5,842.33 L351.5,841.56 L354.01,841.56 L354.01,843.87 L356.52,843.87 L356.52,837.7 L359.04,837.7 L359.04,834.61 L361.56,834.61 L361.56,836.92 L364.07,836.92 L364.07,828.43 L366.59,828.43 L366.59,831.52 L369.1,831.52 L369.1,825.34 L371.62,825.34 L371.62,822.26 L374.13,822.26 L374.13,821.48 L376.64,821.48 L376.64,809.6 L379.16,809.6 L379.16,791.99 L381.68,791.99 L381.68,775.01 L384.19,775.01 L384.19,745.21 L386.71,745.21 L386.71,755.71 L389.22,755.71 L389.22,770.38 L391.74,770.38 L391.74,772.08 L394.25,772.08 L394.25,783.27 L396.76,783.27 L396.76,768.6 L399.28,768.6 L399.28,749.3 L401.8,749.3 L401.8,732.94 L404.31,732.94 L404.31,731.31 L406.83,731.31 L406.83,738.19 L409.34,738.19 L409.34,769.22 L411.86,769.22 L411.86,769.22 L414.37,769.22 L414.37,778.64 L416.88,778.64 L416.88,778.64 L419.4,778.64 L419.4,780.88 L421.92,780.88 L421.92,794.39 L424.43,794.39 L424.43,794.39 L426.95,794.39 L426.95,773.31 L429.46,773.31 L429.46,780.88 L431.98,780.88 L431.98,783.27 L434.49,783.27 L434.49,778.02 L437,778.02 L437,790.3 L439.52,790.3 L439.52,795.11 L442.03,795.11 L442.03,800.33 L444.55,800.33 L444.55,800.64 L447.06,800.64 L447.06,810.83 L449.58,810.83 L449.58,810.83 L452.1,810.83 L452.1,806.58 L454.61,806.58 L454.61,806.58 L457.12,806.58 L457.12,811.45 L459.64,811.45 L459.64,805.27 L462.15,805.27 L462.15,811.83 L464.67,811.83 L464.67,819.09 L467.19,819.09 L467.19,817.08 L469.7,817.08 L469.7,817.08 L472.22,817.08 L472.22,819.09 L474.73,819.09 L474.73,824.03 L477.25,824.03 L477.25,822.26 L479.76,822.26 L479.76,822.26 L482.27,822.26 L482.27,824.03 L484.79,824.03 L484.79,823.03 L487.31,823.03 L487.31,826.81 L489.82,826.81 L489.82,822.26 L492.34,822.26 L492.34,826.12 L494.85,826.12 L494.85,826.12 L497.37,826.12 L497.37,826.12 L499.88,826.12 L499.88,828.43 L502.39,828.43 L502.39,828.43 L504.91,828.43 L504.91,827.27 L507.43,827.27 L507.43,830.9 L509.94,830.9 L509.94,831.52 L512.46,831.52 L512.46,830.75 L514.97,830.75 L514.97,827.27 L517.49,827.27 L517.49,824.03 L520,824.03" fill="none" stroke="#7cc47a" stroke-width="0.8"/>
<path d="M267.3,716 V901.5 M266.8,901 H525.9" stroke="#333" stroke-width="1.3" fill="none"/>
<path d="M264.4,901 H267.3" stroke="#333" stroke-width="1"/>
<text x="261.5" y="904.8" class="b" font-size="10.85" fill="#222" text-anchor="end">0</text>
<path d="M264.4,862.4 H267.3" stroke="#333" stroke-width="1"/>
<text x="261.5" y="866.2" class="b" font-size="10.85" fill="#222" text-anchor="end">0.005</text>
<path d="M264.4,823.8 H267.3" stroke="#333" stroke-width="1"/>
<text x="261.5" y="827.6" class="b" font-size="10.85" fill="#222" text-anchor="end">0.010</text>
<path d="M264.4,785.2 H267.3" stroke="#333" stroke-width="1"/>
<text x="261.5" y="789" class="b" font-size="10.85" fill="#222" text-anchor="end">0.015</text>
<path d="M264.4,746.6 H267.3" stroke="#333" stroke-width="1"/>
<text x="261.5" y="750.4" class="b" font-size="10.85" fill="#222" text-anchor="end">0.020</text>
<path d="M268.5,901 V904" stroke="#333" stroke-width="1"/>
<text x="268.5" y="916.5" class="b" font-size="10.85" fill="#222" text-anchor="middle">0</text>
<path d="M293.65,901 V904" stroke="#333" stroke-width="1"/>
<text x="293.65" y="916.5" class="b" font-size="10.85" fill="#222" text-anchor="middle">5</text>
<path d="M318.8,901 V904" stroke="#333" stroke-width="1"/>
<text x="318.8" y="916.5" class="b" font-size="10.85" fill="#222" text-anchor="middle">10</text>
<path d="M343.95,901 V904" stroke="#333" stroke-width="1"/>
<text x="343.95" y="916.5" class="b" font-size="10.85" fill="#222" text-anchor="middle">15</text>
<path d="M369.1,901 V904" stroke="#333" stroke-width="1"/>
<text x="369.1" y="916.5" class="b" font-size="10.85" fill="#222" text-anchor="middle">20</text>
<path d="M394.25,901 V904" stroke="#333" stroke-width="1"/>
<text x="394.25" y="916.5" class="b" font-size="10.85" fill="#222" text-anchor="middle">25</text>
<path d="M419.4,901 V904" stroke="#333" stroke-width="1"/>
<text x="419.4" y="916.5" class="b" font-size="10.85" fill="#222" text-anchor="middle">30</text>
<path d="M444.55,901 V904" stroke="#333" stroke-width="1"/>
<text x="444.55" y="916.5" class="b" font-size="10.85" fill="#222" text-anchor="middle">35</text>
<path d="M469.7,901 V904" stroke="#333" stroke-width="1"/>
<text x="469.7" y="916.5" class="b" font-size="10.85" fill="#222" text-anchor="middle">40</text>
<path d="M494.85,901 V904" stroke="#333" stroke-width="1"/>
<text x="494.85" y="916.5" class="b" font-size="10.85" fill="#222" text-anchor="middle">45</text>
<path d="M520,901 V904" stroke="#333" stroke-width="1"/>
<text x="520" y="916.5" class="b" font-size="10.85" fill="#222" text-anchor="middle">50</text>
<text x="406.3" y="937.3" class="b" font-size="12.1" fill="#222" text-anchor="middle">OMM-MAM distance (nm)</text>
<text transform="translate(224.3,818.8) rotate(-90)" class="b" font-size="12.2" fill="#222" text-anchor="middle">Relative Area</text>
<rect x="446.2" y="733.2" width="20.4" height="7.2" fill="#c8a4d0" stroke="#a77fb3" stroke-width="0.8"/>
<rect x="446.2" y="748.4" width="20.4" height="7.2" fill="#a9d7a1" stroke="#8cc48a" stroke-width="0.8"/>
<text x="472.7" y="740.3" class="b" font-size="10.85" fill="#222">OE</text>
<text x="471.7" y="755.9" class="b" font-size="10.85" fill="#222">Control</text>
</svg>
</body></html>
